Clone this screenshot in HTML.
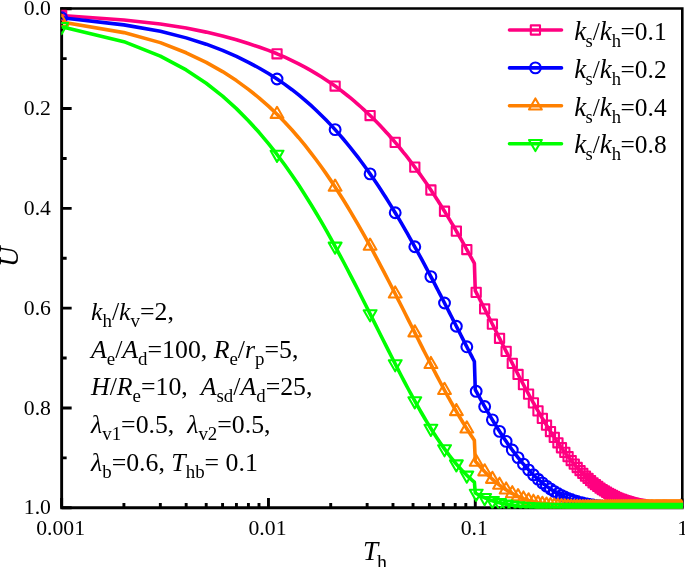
<!DOCTYPE html>
<html><head><meta charset="utf-8"><title>U-Th</title>
<style>
html,body{margin:0;padding:0;background:#fff;}
svg{display:block;}
text{font-family:"Liberation Serif","Times New Roman",serif;fill:#000;}
.i{font-style:italic;}
</style></head><body>
<svg width="685" height="567" viewBox="0 0 685 567">
<rect width="685" height="567" fill="#fff"/>
<defs><clipPath id="cp"><rect x="61.3" y="7.3" width="621.8000000000001" height="501.25"/></clipPath></defs>

<path d="M60.199999999999996 8.55H682.3V507.8" fill="none" stroke="#000" stroke-width="2.6" stroke-linejoin="miter"/>
<path d="M61.65 7.250000000000001V507.8H683.5999999999999" fill="none" stroke="#000" stroke-width="2.9" stroke-linejoin="miter"/>
<path d="M61.65 8.70h10.0M61.65 58.61h5.0M61.65 108.52h10.0M61.65 158.43h5.0M61.65 208.34h10.0M61.65 258.25h5.0M61.65 308.16h10.0M61.65 358.07h5.0M61.65 407.98h10.0M61.65 457.89h5.0M61.65 507.80h10.0M61.65 507.8v-9.8M123.91 507.8v-4.8M160.33 507.8v-4.8M186.17 507.8v-4.8M206.21 507.8v-4.8M222.58 507.8v-4.8M236.43 507.8v-4.8M248.42 507.8v-4.8M259.00 507.8v-4.8M268.47 507.8v-9.8M330.72 507.8v-4.8M367.14 507.8v-4.8M392.98 507.8v-4.8M413.03 507.8v-4.8M429.40 507.8v-4.8M443.25 507.8v-4.8M455.24 507.8v-4.8M465.82 507.8v-4.8M475.28 507.8v-9.8M537.54 507.8v-4.8M573.96 507.8v-4.8M599.80 507.8v-4.8M619.84 507.8v-4.8M636.22 507.8v-4.8M650.06 507.8v-4.8M662.06 507.8v-4.8M672.64 507.8v-4.8M682.1 507.8v-9.4" stroke="#000" stroke-width="2.9" fill="none"/>
<g clip-path="url(#cp)" fill="none" stroke-linejoin="round">
<polyline points="61.65,15.43 123.91,19.99 160.33,23.98 186.17,28.09 206.21,32.12 222.58,36.04 236.43,39.83 248.42,43.56 259.00,47.00 268.47,50.41 277.03,53.78 284.84,57.19 292.03,60.56 298.69,63.88 304.89,67.17 310.68,70.42 316.13,73.62 321.26,76.78 326.12,79.91 330.72,83.00 335.11,86.07 339.29,89.15 343.28,92.20 347.10,95.22 350.77,98.21 354.29,101.16 357.68,104.09 360.95,106.99 364.10,109.86 367.14,112.71 370.09,115.53 372.94,118.32 375.70,121.09 378.39,123.83 380.99,126.55 383.52,129.25 385.98,131.92 388.38,134.57 390.71,137.19 392.98,139.80 395.20,142.38 397.37,144.94 399.48,147.48 401.54,150.01 403.56,152.51 405.54,154.99 407.47,157.45 409.36,159.89 411.21,162.31 413.03,164.72 414.80,167.10 416.55,169.47 418.26,171.82 419.94,174.15 421.59,176.47 423.20,178.77 424.79,181.05 426.36,183.31 427.89,185.55 429.40,187.78 430.89,190.00 432.35,192.20 433.78,194.38 435.20,196.54 436.59,198.69 437.96,200.83 439.31,202.95 440.64,205.05 441.95,207.14 443.25,209.21 444.52,211.27 445.78,213.32 447.02,215.35 448.24,217.36 449.44,219.36 450.63,221.35 451.81,223.32 452.97,225.28 454.11,227.23 455.24,229.16 456.36,231.08 457.46,232.98 458.55,234.87 459.62,236.75 460.69,238.62 461.74,240.47 462.77,242.31 463.80,244.13 464.82,245.95 465.82,247.75 466.81,249.54 467.79,251.31 468.77,253.08 469.73,254.83 470.68,256.57 471.62,258.29 472.55,260.01 473.47,261.71 474.38,263.40 475.28,290.66 476.18,292.39 477.06,294.11 477.94,295.81 478.81,297.50 479.67,299.17 480.52,300.83 481.36,302.48 482.20,304.11 483.02,305.73 483.84,307.34 484.66,308.94 485.46,310.52 486.26,312.09 487.05,313.65 487.84,315.19 488.61,316.73 489.39,318.25 490.15,319.76 490.91,321.25 491.66,322.74 492.40,324.21 493.14,325.67 493.88,327.12 494.60,328.56 495.33,329.99 496.04,331.40 496.75,332.81 497.46,334.20 498.16,335.58 498.85,336.95 499.54,338.31 500.22,339.66 500.90,341.00 501.57,342.33 502.24,343.64 502.90,344.95 503.56,346.25 504.21,347.53 504.86,348.81 505.51,350.07 506.14,351.33 506.78,352.57 507.41,353.81 508.04,355.03 508.66,356.25 509.27,357.45 509.89,358.65 510.50,359.84 511.10,361.01 511.70,362.18 512.30,363.34 512.89,364.49 513.48,365.63 514.07,366.76 514.65,367.88 515.22,369.00 515.80,370.10 516.37,371.20 516.94,372.28 517.50,373.36 518.06,374.43 518.61,375.49 519.17,376.55 519.72,377.59 520.26,378.63 520.81,379.65 521.34,380.67 521.88,381.69 522.41,382.69 522.94,383.68 523.47,384.67 523.99,385.65 524.52,386.62 525.03,387.59 525.55,388.54 526.06,389.49 526.57,390.43 527.07,391.37 527.58,392.29 528.08,393.21 528.58,394.12 529.07,395.03 529.56,395.92 530.05,396.81 530.54,397.70 531.02,398.57 531.50,399.44 531.98,400.30 532.46,401.16 532.93,402.01 533.41,402.85 533.87,403.68 534.34,404.51 534.81,405.33 535.27,406.15 535.73,406.95 536.18,407.76 536.64,408.55 537.09,409.34 537.54,410.12 537.99,410.90 538.44,411.67 538.88,412.44 539.32,413.19 539.76,413.95 540.20,414.69 540.63,415.43 541.06,416.17 541.49,416.90 541.92,417.62 542.35,418.34 542.78,419.05 543.20,419.75 543.62,420.45 544.04,421.15 544.45,421.84 544.87,422.52 545.28,423.20 545.69,423.87 546.10,424.54 546.51,425.20 546.91,425.85 547.32,426.51 547.72,427.15 548.12,427.79 548.52,428.43 548.92,429.06 549.31,429.69 549.70,430.31 550.09,430.92 550.48,431.53 550.87,432.14 551.26,432.74 551.64,433.34 552.03,433.93 552.41,434.52 552.79,435.10 553.17,435.68 553.54,436.25 553.92,436.82 554.29,437.38 554.66,437.94 555.03,438.50 555.40,439.05 555.77,439.59 556.14,440.14 556.50,440.67 556.86,441.21 557.22,441.74 557.58,442.26 557.94,442.78 558.30,443.30 558.66,443.81 559.01,444.32 559.36,444.82 559.71,445.32 560.06,445.82 560.41,446.31 560.76,446.80 561.11,447.28 561.45,447.76 561.80,448.24 562.14,448.71 562.48,449.18 562.82,449.65 563.16,450.11 563.49,450.57 563.83,451.02 564.16,451.47 564.50,451.92 564.83,452.36 565.16,452.80 565.49,453.24 565.82,453.67 566.14,454.10 566.47,454.53 566.80,454.95 567.12,455.37 567.44,455.79 567.76,456.20 568.08,456.61 568.40,457.02 568.72,457.42 569.04,457.82 569.35,458.22 569.67,458.61 569.98,459.00 570.29,459.39 570.60,459.77 570.91,460.15 571.22,460.53 571.53,460.91 571.84,461.28 572.15,461.65 572.45,462.01 572.75,462.38 573.06,462.74 573.36,463.09 573.66,463.45 573.96,463.80 574.26,464.15 574.56,464.50 574.85,464.84 575.15,465.18 575.44,465.52 575.74,465.85 576.03,466.19 576.32,466.52 576.61,466.84 576.91,467.17 577.19,467.49 577.48,467.81 577.77,468.13 578.06,468.44 578.34,468.75 578.63,469.06 578.91,469.37 579.19,469.68 579.48,469.98 579.76,470.28 580.04,470.57 580.32,470.87 580.59,471.16 580.87,471.45 581.15,471.74 581.43,472.03 581.70,472.31 581.97,472.59 582.25,472.87 582.52,473.15 582.79,473.42 583.06,473.69 583.33,473.96 583.60,474.23 583.87,474.50 584.14,474.76 584.41,475.02 584.67,475.28 584.94,475.54 585.20,475.80 585.47,476.05 585.73,476.30 585.99,476.55 586.25,476.80 586.51,477.04 586.77,477.29 587.03,477.53 587.29,477.77 587.55,478.00 587.81,478.24 588.06,478.47 588.32,478.71 588.57,478.94 588.83,479.17 589.08,479.39 589.33,479.62 589.58,479.84 589.84,480.06 590.09,480.28 590.34,480.50 590.59,480.71 590.83,480.93 591.08,481.14 591.33,481.35 591.57,481.56 591.82,481.77 592.07,481.97 592.31,482.18 592.55,482.38 592.80,482.58 593.04,482.78 593.28,482.98 593.52,483.18 593.76,483.37 594.00,483.56 594.24,483.75 594.48,483.94 594.72,484.13 594.96,484.32 595.19,484.51 595.43,484.69 595.66,484.87 595.90,485.05 596.13,485.23 596.37,485.41 596.60,485.59 596.83,485.76 597.06,485.94 597.29,486.11 597.53,486.28 597.76,486.45 597.98,486.62 598.21,486.79 598.44,486.95 598.67,487.12 598.90,487.28 599.12,487.44 599.35,487.60 599.57,487.76 599.80,487.92 600.02,488.08 600.25,488.23 600.47,488.39 600.69,488.54 600.92,488.69 601.14,488.84 601.36,488.99 601.58,489.14 601.80,489.29 602.02,489.43 602.24,489.58 602.45,489.72 602.67,489.86 602.89,490.01 603.11,490.15 603.32,490.28 603.54,490.42 603.75,490.56 603.97,490.70 604.18,490.83 604.40,490.96 604.61,491.10 604.82,491.23 605.03,491.36 605.24,491.49 605.46,491.62 605.67,491.74 605.88,491.87 606.09,491.99 606.30,492.12 606.50,492.24 606.71,492.36 606.92,492.49 607.13,492.61 607.33,492.73 607.54,492.84 607.75,492.96 607.95,493.08 608.16,493.19 608.36,493.31 608.56,493.42 608.77,493.54 608.97,493.65 609.17,493.76 609.37,493.87 609.58,493.98 609.78,494.09 609.98,494.20 610.18,494.30 610.38,494.41 610.58,494.51 610.78,494.62 610.98,494.72 611.17,494.82 611.37,494.93 611.57,495.03 611.77,495.13 611.96,495.23 612.16,495.32 612.35,495.42 612.55,495.52 612.74,495.62 612.94,495.71 613.13,495.81 613.32,495.90 613.52,495.99 613.71,496.09 613.90,496.18 614.09,496.27 614.28,496.36 614.48,496.45 614.67,496.54 614.86,496.63 615.05,496.71 615.23,496.80 615.42,496.89 615.61,496.97 615.80,497.06 615.99,497.14 616.18,497.22 616.36,497.31 616.55,497.39 616.73,497.47 616.92,497.55 617.11,497.63 617.29,497.71 617.48,497.79 617.66,497.87 617.84,497.94 618.03,498.02 618.21,498.10 618.39,498.17 618.58,498.25 618.76,498.32 618.94,498.40 619.12,498.47 619.30,498.54 619.48,498.61 619.66,498.69 619.84,498.76 620.02,498.83 620.20,498.90 620.38,498.97 620.56,499.04 620.74,499.10 620.91,499.17 621.09,499.24 621.27,499.31 621.44,499.37 621.62,499.44 621.80,499.50 621.97,499.57 622.15,499.63 622.32,499.69 622.50,499.76 622.67,499.82 622.85,499.88 623.02,499.94 623.19,500.00 623.36,500.06 623.54,500.12 623.71,500.18 623.88,500.24 624.05,500.30 624.22,500.36 624.40,500.42 624.57,500.48 624.74,500.53 624.91,500.59 625.08,500.64 625.24,500.70 625.41,500.75 625.58,500.81 625.75,500.86 625.92,500.92 626.09,500.97 626.25,501.02 626.42,501.08 626.59,501.13 626.75,501.18 626.92,501.23 627.09,501.28 627.25,501.33 627.42,501.38 627.58,501.43 627.75,501.48 627.91,501.53 628.08,501.58 628.24,501.62 628.40,501.67 628.57,501.72 628.73,501.77 628.89,501.81 629.05,501.86 629.22,501.90 629.38,501.95 629.54,502.00 629.70,502.04 629.86,502.08 630.02,502.13 630.18,502.17 630.34,502.22 630.50,502.26 630.66,502.30 630.82,502.34 630.98,502.38 631.14,502.43 631.30,502.47 631.45,502.51 631.61,502.55 631.77,502.59 631.93,502.63 632.08,502.67 632.24,502.71 632.40,502.75 632.55,502.79 632.71,502.82 632.86,502.86 633.02,502.90 633.17,502.94 633.33,502.97 633.48,503.01 633.64,503.05 633.79,503.08 633.94,503.12 634.10,503.16 634.25,503.19 634.40,503.23 634.56,503.26 634.71,503.30 634.86,503.33 635.01,503.36 635.16,503.40 635.32,503.43 635.47,503.46 635.62,503.50 635.77,503.53 635.92,503.56 636.07,503.59 636.22,503.63 636.37,503.66 636.52,503.69 636.67,503.72 636.81,503.75 636.96,503.78 637.11,503.81 637.26,503.84 637.41,503.87 637.56,503.90 637.70,503.93 637.85,503.96 638.00,503.99 638.14,504.02 638.29,504.05 638.44,504.08 638.58,504.10 638.73,504.13 638.87,504.16 639.02,504.19 639.16,504.21 639.31,504.24 639.45,504.27 639.60,504.29 639.74,504.32 639.88,504.35 640.03,504.37 640.17,504.40 640.31,504.42 640.46,504.45 640.60,504.47 640.74,504.50 640.88,504.52 641.03,504.55 641.17,504.57 641.31,504.60 641.45,504.62 641.59,504.64 641.73,504.67 641.87,504.69 642.01,504.71 642.16,504.74 642.30,504.76 642.43,504.78 642.57,504.81 642.71,504.83 642.85,504.85 642.99,504.87 643.13,504.89 643.27,504.92 643.41,504.94 643.55,504.96 643.68,504.98 643.82,505.00 643.96,505.02 644.10,505.04 644.23,505.06 644.37,505.08 644.51,505.10 644.64,505.12 644.78,505.14 644.91,505.16 645.05,505.18 645.19,505.20 645.32,505.22 645.46,505.24 645.59,505.26 645.73,505.28 645.86,505.29 646.00,505.31 646.13,505.33 646.26,505.35 646.40,505.37 646.53,505.38 646.66,505.40 646.80,505.42 646.93,505.44 647.06,505.45 647.20,505.47 647.33,505.49 647.46,505.50 647.59,505.52 647.72,505.54 647.86,505.55 647.99,505.57 648.12,505.59 648.25,505.60 648.38,505.62 648.51,505.63 648.64,505.65 648.77,505.67 648.90,505.68 649.03,505.70 649.16,505.71 649.29,505.73 649.42,505.74 649.55,505.76 649.68,505.77 649.81,505.79 649.94,505.80 650.06,505.81 650.19,505.83 650.32,505.84 650.45,505.86 650.58,505.87 650.70,505.88 650.83,505.90 650.96,505.91 651.08,505.93 651.21,505.94 651.34,505.95 651.46,505.97 651.59,505.98 651.72,505.99 651.84,506.00 651.97,506.02 652.09,506.03 652.22,506.04 652.34,506.05 652.47,506.07 652.59,506.08 652.72,506.09 652.84,506.10 652.97,506.11 653.09,506.13 653.22,506.14 653.34,506.15 653.46,506.16 653.59,506.17 653.71,506.18 653.83,506.20 653.96,506.21 654.08,506.22 654.20,506.23 654.32,506.24 654.45,506.25 654.57,506.26 654.69,506.27 654.81,506.28 654.93,506.29 655.05,506.30 655.18,506.31 655.30,506.32 655.42,506.33 655.54,506.34 655.66,506.35 655.78,506.36 655.90,506.37 656.02,506.38 656.14,506.39 656.26,506.40 656.38,506.41 656.50,506.42 656.62,506.43 656.74,506.44 656.86,506.45 656.98,506.46 657.10,506.47 657.21,506.48 657.33,506.49 657.45,506.50 657.57,506.50 657.69,506.51 657.80,506.52 657.92,506.53 658.04,506.54 658.16,506.55 658.27,506.56 658.39,506.56 658.51,506.57 658.62,506.58 658.74,506.59 658.86,506.60 658.97,506.60 659.09,506.61 659.21,506.62 659.32,506.63 659.44,506.64 659.55,506.64 659.67,506.65 659.78,506.66 659.90,506.67 660.01,506.67 660.13,506.68 660.24,506.69 660.36,506.70 660.47,506.70 660.59,506.71 660.70,506.72 660.81,506.72 660.93,506.73 661.04,506.74 661.15,506.74 661.27,506.75 661.38,506.76 661.49,506.77 661.61,506.77 661.72,506.78 661.83,506.78 661.95,506.79 662.06,506.80 662.17,506.80 662.28,506.81 662.39,506.82 662.51,506.82 662.62,506.83 662.73,506.84 662.84,506.84 662.95,506.85 663.06,506.85 663.17,506.86 663.28,506.87 663.39,506.87 663.51,506.88 663.62,506.88 663.73,506.89 663.84,506.89 663.95,506.90 664.06,506.91 664.17,506.91 664.28,506.92 664.38,506.92 664.49,506.93 664.60,506.93 664.71,506.94 664.82,506.94 664.93,506.95 665.04,506.95 665.15,506.96 665.26,506.96 665.36,506.97 665.47,506.97 665.58,506.98 665.69,506.98 665.80,506.99 665.90,506.99 666.01,507.00 666.12,507.00 666.23,507.01 666.33,507.01 666.44,507.02 666.55,507.02 666.65,507.03 666.76,507.03 666.87,507.04 666.97,507.04 667.08,507.04 667.19,507.05 667.29,507.05 667.40,507.06 667.50,507.06 667.61,507.07 667.71,507.07 667.82,507.08 667.92,507.08 668.03,507.08 668.13,507.09 668.24,507.09 668.34,507.10 668.45,507.10 668.55,507.10 668.66,507.11 668.76,507.11 668.87,507.12 668.97,507.12 669.07,507.12 669.18,507.13 669.28,507.13 669.38,507.13 669.49,507.14 669.59,507.14 669.69,507.15 669.80,507.15 669.90,507.15 670.00,507.16 670.11,507.16 670.21,507.16 670.31,507.17 670.41,507.17 670.52,507.17 670.62,507.18 670.72,507.18 670.82,507.18 670.92,507.19 671.03,507.19 671.13,507.19 671.23,507.20 671.33,507.20 671.43,507.20 671.53,507.21 671.63,507.21 671.73,507.21 671.83,507.22 671.94,507.22 672.04,507.22 672.14,507.22 672.24,507.23 672.34,507.23 672.44,507.23 672.54,507.24 672.64,507.24 672.74,507.24 672.84,507.25 672.94,507.25 673.03,507.25 673.13,507.25 673.23,507.26 673.33,507.26 673.43,507.26 673.53,507.26 673.63,507.27 673.73,507.27 673.83,507.27 673.92,507.28 674.02,507.28 674.12,507.28 674.22,507.28 674.32,507.29 674.42,507.29 674.51,507.29 674.61,507.29 674.71,507.30 674.81,507.30 674.90,507.30 675.00,507.30 675.10,507.30 675.19,507.31 675.29,507.31 675.39,507.31 675.49,507.31 675.58,507.32 675.68,507.32 675.77,507.32 675.87,507.32 675.97,507.33 676.06,507.33 676.16,507.33 676.26,507.33 676.35,507.33 676.45,507.34 676.54,507.34 676.64,507.34 676.73,507.34 676.83,507.34 676.92,507.35 677.02,507.35 677.11,507.35 677.21,507.35 677.30,507.35 677.40,507.36 677.49,507.36 677.59,507.36 677.68,507.36 677.78,507.36 677.87,507.37 677.96,507.37 678.06,507.37 678.15,507.37 678.25,507.37 678.34,507.38 678.43,507.38 678.53,507.38 678.62,507.38 678.71,507.38 678.81,507.38 678.90,507.39 678.99,507.39 679.09,507.39 679.18,507.39 679.27,507.39 679.36,507.39 679.46,507.40 679.55,507.40 679.64,507.40 679.73,507.40 679.83,507.40 679.92,507.40 680.01,507.41 680.10,507.41 680.19,507.41 680.29,507.41 680.38,507.41 680.47,507.41 680.56,507.41 680.65,507.42 680.74,507.42 680.83,507.42 680.92,507.42 681.02,507.42 681.11,507.42 681.20,507.42 681.29,507.43 681.38,507.43 681.47,507.43 681.56,507.43 681.65,507.43 681.74,507.43 681.83,507.43 681.92,507.44 682.01,507.44 682.10,507.44" stroke="#FF0080" stroke-width="3.6"/>
<path d="M57.05 10.83h9.20v9.20h-9.20zM272.43 49.18h9.20v9.20h-9.20zM330.51 81.47h9.20v9.20h-9.20zM365.49 110.93h9.20v9.20h-9.20zM390.60 137.78h9.20v9.20h-9.20zM410.20 162.50h9.20v9.20h-9.20zM426.29 185.40h9.20v9.20h-9.20zM439.92 206.67h9.20v9.20h-9.20zM451.76 226.48h9.20v9.20h-9.20zM462.21 244.94h9.20v9.20h-9.20zM471.58 287.79h9.20v9.20h-9.20zM480.06 304.34h9.20v9.20h-9.20zM487.80 319.61h9.20v9.20h-9.20zM494.94 333.71h9.20v9.20h-9.20zM501.54 346.73h9.20v9.20h-9.20zM507.70 358.74h9.20v9.20h-9.20zM513.46 369.83h9.20v9.20h-9.20zM518.87 380.07h9.20v9.20h-9.20zM523.98 389.52h9.20v9.20h-9.20zM528.81 398.25h9.20v9.20h-9.20zM533.39 406.30h9.20v9.20h-9.20zM537.75 413.74h9.20v9.20h-9.20zM541.91 420.60h9.20v9.20h-9.20zM545.88 426.93h9.20v9.20h-9.20zM549.69 432.78h9.20v9.20h-9.20zM553.34 438.18h9.20v9.20h-9.20zM556.85 443.16h9.20v9.20h-9.20zM560.23 447.76h9.20v9.20h-9.20zM563.48 452.01h9.20v9.20h-9.20zM566.62 455.93h9.20v9.20h-9.20zM569.66 459.55h9.20v9.20h-9.20zM572.59 462.89h9.20v9.20h-9.20zM575.44 465.97h9.20v9.20h-9.20zM578.19 468.82h9.20v9.20h-9.20zM580.87 471.45h9.20v9.20h-9.20zM583.46 473.87h9.20v9.20h-9.20zM585.99 476.11h9.20v9.20h-9.20zM588.44 478.18h9.20v9.20h-9.20zM590.83 480.09h9.20v9.20h-9.20zM593.16 481.85h9.20v9.20h-9.20zM595.42 483.48h9.20v9.20h-9.20zM597.64 484.98h9.20v9.20h-9.20zM599.80 486.36h9.20v9.20h-9.20zM601.90 487.64h9.20v9.20h-9.20zM603.96 488.82h9.20v9.20h-9.20zM605.98 489.91h9.20v9.20h-9.20zM607.95 490.92h9.20v9.20h-9.20zM609.88 491.85h9.20v9.20h-9.20zM611.76 492.71h9.20v9.20h-9.20zM613.61 493.50h9.20v9.20h-9.20zM615.42 494.23h9.20v9.20h-9.20zM617.20 494.90h9.20v9.20h-9.20zM618.94 495.52h9.20v9.20h-9.20zM620.64 496.10h9.20v9.20h-9.20zM622.32 496.63h9.20v9.20h-9.20zM623.97 497.12h9.20v9.20h-9.20zM625.58 497.57h9.20v9.20h-9.20zM627.17 497.99h9.20v9.20h-9.20zM628.73 498.37h9.20v9.20h-9.20zM630.26 498.73h9.20v9.20h-9.20zM631.77 499.06h9.20v9.20h-9.20zM633.25 499.36h9.20v9.20h-9.20zM634.71 499.64h9.20v9.20h-9.20zM636.14 499.90h9.20v9.20h-9.20zM637.56 500.14h9.20v9.20h-9.20zM638.95 500.36h9.20v9.20h-9.20zM640.31 500.56h9.20v9.20h-9.20zM641.66 500.75h9.20v9.20h-9.20zM642.99 500.92h9.20v9.20h-9.20zM644.30 501.08h9.20v9.20h-9.20zM645.59 501.23h9.20v9.20h-9.20zM646.86 501.37h9.20v9.20h-9.20zM648.12 501.49h9.20v9.20h-9.20zM649.36 501.61h9.20v9.20h-9.20zM650.58 501.71h9.20v9.20h-9.20zM651.78 501.81h9.20v9.20h-9.20zM652.97 501.90h9.20v9.20h-9.20zM654.14 501.99h9.20v9.20h-9.20zM655.30 502.07h9.20v9.20h-9.20zM656.44 502.14h9.20v9.20h-9.20zM657.57 502.20h9.20v9.20h-9.20zM658.68 502.27h9.20v9.20h-9.20zM659.78 502.32h9.20v9.20h-9.20zM660.87 502.37h9.20v9.20h-9.20zM661.95 502.42h9.20v9.20h-9.20zM663.01 502.47h9.20v9.20h-9.20zM664.06 502.51h9.20v9.20h-9.20zM665.09 502.55h9.20v9.20h-9.20zM666.12 502.58h9.20v9.20h-9.20zM667.13 502.61h9.20v9.20h-9.20zM668.14 502.64h9.20v9.20h-9.20zM669.13 502.67h9.20v9.20h-9.20zM670.11 502.70h9.20v9.20h-9.20zM671.08 502.72h9.20v9.20h-9.20zM672.04 502.74h9.20v9.20h-9.20zM672.99 502.76h9.20v9.20h-9.20zM673.93 502.78h9.20v9.20h-9.20zM674.86 502.80h9.20v9.20h-9.20zM675.78 502.81h9.20v9.20h-9.20zM676.69 502.83h9.20v9.20h-9.20z" stroke="#FF0080" stroke-width="2.1" stroke-linejoin="round"/>
<polyline points="61.65,17.75 123.91,24.89 160.33,31.24 186.17,37.88 206.21,44.18 222.58,50.36 236.43,56.42 248.42,62.37 259.00,67.99 268.47,73.53 277.03,79.00 284.84,84.39 292.03,89.71 298.69,94.95 304.89,100.12 310.68,105.22 316.13,110.23 321.26,115.18 326.12,120.06 330.72,124.87 335.11,129.62 339.29,134.33 343.28,138.98 347.10,143.56 350.77,148.08 354.29,152.53 357.68,156.93 360.95,161.26 364.10,165.53 367.14,169.75 370.09,173.91 372.94,178.04 375.70,182.11 378.39,186.12 380.99,190.08 383.52,193.99 385.98,197.84 388.38,201.65 390.71,205.40 392.98,209.10 395.20,212.76 397.37,216.36 399.48,219.92 401.54,223.43 403.56,226.90 405.54,230.32 407.47,233.70 409.36,237.03 411.21,240.32 413.03,243.56 414.80,246.77 416.55,249.93 418.26,253.06 419.94,256.14 421.59,259.19 423.20,262.19 424.79,265.16 426.36,268.09 427.89,270.98 429.40,273.84 430.89,276.66 432.35,279.44 433.78,282.19 435.20,284.91 436.59,287.59 437.96,290.24 439.31,292.85 440.64,295.44 441.95,297.99 443.25,300.50 444.52,302.99 445.78,305.45 447.02,307.88 448.24,310.27 449.44,312.64 450.63,314.98 451.81,317.28 452.97,319.56 454.11,321.82 455.24,324.04 456.36,326.24 457.46,328.41 458.55,330.55 459.62,332.67 460.69,334.76 461.74,336.83 462.77,338.87 463.80,340.89 464.82,342.88 465.82,344.85 466.81,346.79 467.79,348.71 468.77,350.61 469.73,352.48 470.68,354.33 471.62,356.16 472.55,357.97 473.47,359.75 474.38,361.52 475.28,389.66 476.18,391.31 477.06,392.93 477.94,394.53 478.81,396.11 479.67,397.67 480.52,399.21 481.36,400.72 482.20,402.22 483.02,403.69 483.84,405.14 484.66,406.57 485.46,407.98 486.26,409.37 487.05,410.75 487.84,412.10 488.61,413.43 489.39,414.75 490.15,416.05 490.91,417.33 491.66,418.59 492.40,419.83 493.14,421.06 493.88,422.27 494.60,423.46 495.33,424.63 496.04,425.79 496.75,426.94 497.46,428.06 498.16,429.17 498.85,430.27 499.54,431.35 500.22,432.42 500.90,433.47 501.57,434.50 502.24,435.52 502.90,436.53 503.56,437.52 504.21,438.50 504.86,439.47 505.51,440.42 506.14,441.36 506.78,442.28 507.41,443.20 508.04,444.10 508.66,444.98 509.27,445.86 509.89,446.72 510.50,447.57 511.10,448.41 511.70,449.24 512.30,450.05 512.89,450.86 513.48,451.65 514.07,452.43 514.65,453.20 515.22,453.96 515.80,454.71 516.37,455.45 516.94,456.18 517.50,456.90 518.06,457.61 518.61,458.30 519.17,458.99 519.72,459.67 520.26,460.34 520.81,461.00 521.34,461.65 521.88,462.30 522.41,462.93 522.94,463.55 523.47,464.17 523.99,464.77 524.52,465.37 525.03,465.96 525.55,466.54 526.06,467.12 526.57,467.68 527.07,468.24 527.58,468.79 528.08,469.33 528.58,469.87 529.07,470.40 529.56,470.92 530.05,471.43 530.54,471.93 531.02,472.43 531.50,472.92 531.98,473.41 532.46,473.88 532.93,474.36 533.41,474.82 533.87,475.28 534.34,475.73 534.81,476.18 535.27,476.61 535.73,477.05 536.18,477.47 536.64,477.89 537.09,478.31 537.54,478.72 537.99,479.12 538.44,479.52 538.88,479.91 539.32,480.30 539.76,480.68 540.20,481.06 540.63,481.43 541.06,481.79 541.49,482.15 541.92,482.51 542.35,482.86 542.78,483.21 543.20,483.55 543.62,483.88 544.04,484.21 544.45,484.54 544.87,484.86 545.28,485.18 545.69,485.49 546.10,485.80 546.51,486.11 546.91,486.41 547.32,486.70 547.72,487.00 548.12,487.28 548.52,487.57 548.92,487.85 549.31,488.12 549.70,488.40 550.09,488.66 550.48,488.93 550.87,489.19 551.26,489.45 551.64,489.70 552.03,489.95 552.41,490.20 552.79,490.44 553.17,490.68 553.54,490.92 553.92,491.15 554.29,491.38 554.66,491.61 555.03,491.83 555.40,492.05 555.77,492.27 556.14,492.48 556.50,492.69 556.86,492.90 557.22,493.11 557.58,493.31 557.94,493.51 558.30,493.70 558.66,493.90 559.01,494.09 559.36,494.28 559.71,494.47 560.06,494.65 560.41,494.83 560.76,495.01 561.11,495.18 561.45,495.36 561.80,495.53 562.14,495.70 562.48,495.86 562.82,496.03 563.16,496.19 563.49,496.35 563.83,496.51 564.16,496.66 564.50,496.81 564.83,496.96 565.16,497.11 565.49,497.26 565.82,497.40 566.14,497.55 566.47,497.69 566.80,497.83 567.12,497.96 567.44,498.10 567.76,498.23 568.08,498.36 568.40,498.49 568.72,498.62 569.04,498.74 569.35,498.87 569.67,498.99 569.98,499.11 570.29,499.23 570.60,499.34 570.91,499.46 571.22,499.57 571.53,499.69 571.84,499.80 572.15,499.90 572.45,500.01 572.75,500.12 573.06,500.22 573.36,500.33 573.66,500.43 573.96,500.53 574.26,500.63 574.56,500.72 574.85,500.82 575.15,500.91 575.44,501.01 575.74,501.10 576.03,501.19 576.32,501.28 576.61,501.37 576.91,501.46 577.19,501.54 577.48,501.63 577.77,501.71 578.06,501.79 578.34,501.87 578.63,501.95 578.91,502.03 579.19,502.11 579.48,502.19 579.76,502.26 580.04,502.34 580.32,502.41 580.59,502.48 580.87,502.55 581.15,502.62 581.43,502.69 581.70,502.76 581.97,502.83 582.25,502.90 582.52,502.96 582.79,503.03 583.06,503.09 583.33,503.15 583.60,503.22 583.87,503.28 584.14,503.34 584.41,503.40 584.67,503.46 584.94,503.51 585.20,503.57 585.47,503.63 585.73,503.68 585.99,503.74 586.25,503.79 586.51,503.85 586.77,503.90 587.03,503.95 587.29,504.00 587.55,504.05 587.81,504.10 588.06,504.15 588.32,504.20 588.57,504.24 588.83,504.29 589.08,504.34 589.33,504.38 589.58,504.43 589.84,504.47 590.09,504.52 590.34,504.56 590.59,504.60 590.83,504.64 591.08,504.69 591.33,504.73 591.57,504.77 591.82,504.81 592.07,504.84 592.31,504.88 592.55,504.92 592.80,504.96 593.04,505.00 593.28,505.03 593.52,505.07 593.76,505.10 594.00,505.14 594.24,505.17 594.48,505.21 594.72,505.24 594.96,505.27 595.19,505.31 595.43,505.34 595.66,505.37 595.90,505.40 596.13,505.43 596.37,505.46 596.60,505.49 596.83,505.52 597.06,505.55 597.29,505.58 597.53,505.61 597.76,505.63 597.98,505.66 598.21,505.69 598.44,505.72 598.67,505.74 598.90,505.77 599.12,505.79 599.35,505.82 599.57,505.84 599.80,505.87 600.02,505.89 600.25,505.92 600.47,505.94 600.69,505.96 600.92,505.99 601.14,506.01 601.36,506.03 601.58,506.05 601.80,506.07 602.02,506.10 602.24,506.12 602.45,506.14 602.67,506.16 602.89,506.18 603.11,506.20 603.32,506.22 603.54,506.24 603.75,506.26 603.97,506.27 604.18,506.29 604.40,506.31 604.61,506.33 604.82,506.35 605.03,506.36 605.24,506.38 605.46,506.40 605.67,506.42 605.88,506.43 606.09,506.45 606.30,506.46 606.50,506.48 606.71,506.50 606.92,506.51 607.13,506.53 607.33,506.54 607.54,506.56 607.75,506.57 607.95,506.59 608.16,506.60 608.36,506.61 608.56,506.63 608.77,506.64 608.97,506.65 609.17,506.67 609.37,506.68 609.58,506.69 609.78,506.71 609.98,506.72 610.18,506.73 610.38,506.74 610.58,506.75 610.78,506.77 610.98,506.78 611.17,506.79 611.37,506.80 611.57,506.81 611.77,506.82 611.96,506.83 612.16,506.84 612.35,506.86 612.55,506.87 612.74,506.88 612.94,506.89 613.13,506.90 613.32,506.91 613.52,506.92 613.71,506.93 613.90,506.93 614.09,506.94 614.28,506.95 614.48,506.96 614.67,506.97 614.86,506.98 615.05,506.99 615.23,507.00 615.42,507.01 615.61,507.01 615.80,507.02 615.99,507.03 616.18,507.04 616.36,507.05 616.55,507.05 616.73,507.06 616.92,507.07 617.11,507.08 617.29,507.08 617.48,507.09 617.66,507.10 617.84,507.10 618.03,507.11 618.21,507.12 618.39,507.13 618.58,507.13 618.76,507.14 618.94,507.15 619.12,507.15 619.30,507.16 619.48,507.16 619.66,507.17 619.84,507.18 620.02,507.18 620.20,507.19 620.38,507.19 620.56,507.20 620.74,507.20 620.91,507.21 621.09,507.22 621.27,507.22 621.44,507.23 621.62,507.23 621.80,507.24 621.97,507.24 622.15,507.25 622.32,507.25 622.50,507.26 622.67,507.26 622.85,507.27 623.02,507.27 623.19,507.28 623.36,507.28 623.54,507.28 623.71,507.29 623.88,507.29 624.05,507.30 624.22,507.30 624.40,507.31 624.57,507.31 624.74,507.31 624.91,507.32 625.08,507.32 625.24,507.33 625.41,507.33 625.58,507.33 625.75,507.34 625.92,507.34 626.09,507.34 626.25,507.35 626.42,507.35 626.59,507.36 626.75,507.36 626.92,507.36 627.09,507.37 627.25,507.37 627.42,507.37 627.58,507.37 627.75,507.38 627.91,507.38 628.08,507.38 628.24,507.39 628.40,507.39 628.57,507.39 628.73,507.40 628.89,507.40 629.05,507.40 629.22,507.40 629.38,507.41 629.54,507.41 629.70,507.41 629.86,507.42 630.02,507.42 630.18,507.42 630.34,507.42 630.50,507.43 630.66,507.43 630.82,507.43 630.98,507.43 631.14,507.43 631.30,507.44 631.45,507.44 631.61,507.44 631.77,507.44 631.93,507.45 632.08,507.45 632.24,507.45 632.40,507.45 632.55,507.45 632.71,507.46 632.86,507.46 633.02,507.46 633.17,507.46 633.33,507.46 633.48,507.47 633.64,507.47 633.79,507.47 633.94,507.47 634.10,507.47 634.25,507.48 634.40,507.48 634.56,507.48 634.71,507.48 634.86,507.48 635.01,507.48 635.16,507.49 635.32,507.49 635.47,507.49 635.62,507.49 635.77,507.49 635.92,507.49 636.07,507.49 636.22,507.50 636.37,507.50 636.52,507.50 636.67,507.50 636.81,507.50 636.96,507.50 637.11,507.50 637.26,507.51 637.41,507.51 637.56,507.51 637.70,507.51 637.85,507.51 638.00,507.51 638.14,507.51 638.29,507.51 638.44,507.52 638.58,507.52 638.73,507.52 638.87,507.52 639.02,507.52 639.16,507.52 639.31,507.52 639.45,507.52 639.60,507.52 639.74,507.53 639.88,507.53 640.03,507.53 640.17,507.53 640.31,507.53 640.46,507.53 640.60,507.53 640.74,507.53 640.88,507.53 641.03,507.53 641.17,507.54 641.31,507.54 641.45,507.54 641.59,507.54 641.73,507.54 641.87,507.54 642.01,507.54 642.16,507.54 642.30,507.54 642.43,507.54 642.57,507.54 642.71,507.54 642.85,507.55 642.99,507.55 643.13,507.55 643.27,507.55 643.41,507.55 643.55,507.55 643.68,507.55 643.82,507.55 643.96,507.55 644.10,507.55 644.23,507.55 644.37,507.55 644.51,507.55 644.64,507.55 644.78,507.56 644.91,507.56 645.05,507.56 645.19,507.56 645.32,507.56 645.46,507.56 645.59,507.56 645.73,507.56 645.86,507.56 646.00,507.56 646.13,507.56 646.26,507.56 646.40,507.56 646.53,507.56 646.66,507.56 646.80,507.56 646.93,507.56 647.06,507.56 647.20,507.57 647.33,507.57 647.46,507.57 647.59,507.57 647.72,507.57 647.86,507.57 647.99,507.57 648.12,507.57 648.25,507.57 648.38,507.57 648.51,507.57 648.64,507.57 648.77,507.57 648.90,507.57 649.03,507.57 649.16,507.57 649.29,507.57 649.42,507.57 649.55,507.57 649.68,507.57 649.81,507.57 649.94,507.57 650.06,507.57 650.19,507.57 650.32,507.58 650.45,507.58 650.58,507.58 650.70,507.58 650.83,507.58 650.96,507.58 651.08,507.58 651.21,507.58 651.34,507.58 651.46,507.58 651.59,507.58 651.72,507.58 651.84,507.58 651.97,507.58 652.09,507.58 652.22,507.58 652.34,507.58 652.47,507.58 652.59,507.58 652.72,507.58 652.84,507.58 652.97,507.58 653.09,507.58 653.22,507.58 653.34,507.58 653.46,507.58 653.59,507.58 653.71,507.58 653.83,507.58 653.96,507.58 654.08,507.58 654.20,507.58 654.32,507.58 654.45,507.58 654.57,507.58 654.69,507.58 654.81,507.59 654.93,507.59 655.05,507.59 655.18,507.59 655.30,507.59 655.42,507.59 655.54,507.59 655.66,507.59 655.78,507.59 655.90,507.59 656.02,507.59 656.14,507.59 656.26,507.59 656.38,507.59 656.50,507.59 656.62,507.59 656.74,507.59 656.86,507.59 656.98,507.59 657.10,507.59 657.21,507.59 657.33,507.59 657.45,507.59 657.57,507.59 657.69,507.59 657.80,507.59 657.92,507.59 658.04,507.59 658.16,507.59 658.27,507.59 658.39,507.59 658.51,507.59 658.62,507.59 658.74,507.59 658.86,507.59 658.97,507.59 659.09,507.59 659.21,507.59 659.32,507.59 659.44,507.59 659.55,507.59 659.67,507.59 659.78,507.59 659.90,507.59 660.01,507.59 660.13,507.59 660.24,507.59 660.36,507.59 660.47,507.59 660.59,507.59 660.70,507.59 660.81,507.59 660.93,507.59 661.04,507.59 661.15,507.59 661.27,507.59 661.38,507.59 661.49,507.59 661.61,507.59 661.72,507.59 661.83,507.59 661.95,507.59 662.06,507.59 662.17,507.59 662.28,507.59 662.39,507.59 662.51,507.59 662.62,507.59 662.73,507.59 662.84,507.59 662.95,507.59 663.06,507.59 663.17,507.59 663.28,507.59 663.39,507.59 663.51,507.59 663.62,507.59 663.73,507.59 663.84,507.60 663.95,507.60 664.06,507.60 664.17,507.60 664.28,507.60 664.38,507.60 664.49,507.60 664.60,507.60 664.71,507.60 664.82,507.60 664.93,507.60 665.04,507.60 665.15,507.60 665.26,507.60 665.36,507.60 665.47,507.60 665.58,507.60 665.69,507.60 665.80,507.60 665.90,507.60 666.01,507.60 666.12,507.60 666.23,507.60 666.33,507.60 666.44,507.60 666.55,507.60 666.65,507.60 666.76,507.60 666.87,507.60 666.97,507.60 667.08,507.60 667.19,507.60 667.29,507.60 667.40,507.60 667.50,507.60 667.61,507.60 667.71,507.60 667.82,507.60 667.92,507.60 668.03,507.60 668.13,507.60 668.24,507.60 668.34,507.60 668.45,507.60 668.55,507.60 668.66,507.60 668.76,507.60 668.87,507.60 668.97,507.60 669.07,507.60 669.18,507.60 669.28,507.60 669.38,507.60 669.49,507.60 669.59,507.60 669.69,507.60 669.80,507.60 669.90,507.60 670.00,507.60 670.11,507.60 670.21,507.60 670.31,507.60 670.41,507.60 670.52,507.60 670.62,507.60 670.72,507.60 670.82,507.60 670.92,507.60 671.03,507.60 671.13,507.60 671.23,507.60 671.33,507.60 671.43,507.60 671.53,507.60 671.63,507.60 671.73,507.60 671.83,507.60 671.94,507.60 672.04,507.60 672.14,507.60 672.24,507.60 672.34,507.60 672.44,507.60 672.54,507.60 672.64,507.60 672.74,507.60 672.84,507.60 672.94,507.60 673.03,507.60 673.13,507.60 673.23,507.60 673.33,507.60 673.43,507.60 673.53,507.60 673.63,507.60 673.73,507.60 673.83,507.60 673.92,507.60 674.02,507.60 674.12,507.60 674.22,507.60 674.32,507.60 674.42,507.60 674.51,507.60 674.61,507.60 674.71,507.60 674.81,507.60 674.90,507.60 675.00,507.60 675.10,507.60 675.19,507.60 675.29,507.60 675.39,507.60 675.49,507.60 675.58,507.60 675.68,507.60 675.77,507.60 675.87,507.60 675.97,507.60 676.06,507.60 676.16,507.60 676.26,507.60 676.35,507.60 676.45,507.60 676.54,507.60 676.64,507.60 676.73,507.60 676.83,507.60 676.92,507.60 677.02,507.60 677.11,507.60 677.21,507.60 677.30,507.60 677.40,507.60 677.49,507.60 677.59,507.60 677.68,507.60 677.78,507.60 677.87,507.60 677.96,507.60 678.06,507.60 678.15,507.60 678.25,507.60 678.34,507.60 678.43,507.60 678.53,507.60 678.62,507.60 678.71,507.60 678.81,507.60 678.90,507.60 678.99,507.60 679.09,507.60 679.18,507.60 679.27,507.60 679.36,507.60 679.46,507.60 679.55,507.60 679.64,507.60 679.73,507.60 679.83,507.60 679.92,507.60 680.01,507.60 680.10,507.60 680.19,507.60 680.29,507.60 680.38,507.60 680.47,507.60 680.56,507.60 680.65,507.60 680.74,507.60 680.83,507.60 680.92,507.60 681.02,507.60 681.11,507.60 681.20,507.60 681.29,507.60 681.38,507.60 681.47,507.60 681.56,507.60 681.65,507.60 681.74,507.60 681.83,507.60 681.92,507.60 682.01,507.60 682.10,507.60" stroke="#0000FF" stroke-width="3.6"/>
<path d="M56.25 17.75a5.4 5.4 0 1 0 10.80 0a5.4 5.4 0 1 0 -10.80 0zM271.63 79.00a5.4 5.4 0 1 0 10.80 0a5.4 5.4 0 1 0 -10.80 0zM329.71 129.62a5.4 5.4 0 1 0 10.80 0a5.4 5.4 0 1 0 -10.80 0zM364.69 173.91a5.4 5.4 0 1 0 10.80 0a5.4 5.4 0 1 0 -10.80 0zM389.80 212.76a5.4 5.4 0 1 0 10.80 0a5.4 5.4 0 1 0 -10.80 0zM409.40 246.77a5.4 5.4 0 1 0 10.80 0a5.4 5.4 0 1 0 -10.80 0zM425.49 276.66a5.4 5.4 0 1 0 10.80 0a5.4 5.4 0 1 0 -10.80 0zM439.12 302.99a5.4 5.4 0 1 0 10.80 0a5.4 5.4 0 1 0 -10.80 0zM450.96 326.24a5.4 5.4 0 1 0 10.80 0a5.4 5.4 0 1 0 -10.80 0zM461.41 346.79a5.4 5.4 0 1 0 10.80 0a5.4 5.4 0 1 0 -10.80 0zM470.78 391.31a5.4 5.4 0 1 0 10.80 0a5.4 5.4 0 1 0 -10.80 0zM479.26 406.57a5.4 5.4 0 1 0 10.80 0a5.4 5.4 0 1 0 -10.80 0zM487.00 419.83a5.4 5.4 0 1 0 10.80 0a5.4 5.4 0 1 0 -10.80 0zM494.14 431.35a5.4 5.4 0 1 0 10.80 0a5.4 5.4 0 1 0 -10.80 0zM500.74 441.36a5.4 5.4 0 1 0 10.80 0a5.4 5.4 0 1 0 -10.80 0zM506.90 450.05a5.4 5.4 0 1 0 10.80 0a5.4 5.4 0 1 0 -10.80 0zM512.66 457.61a5.4 5.4 0 1 0 10.80 0a5.4 5.4 0 1 0 -10.80 0zM518.07 464.17a5.4 5.4 0 1 0 10.80 0a5.4 5.4 0 1 0 -10.80 0zM523.18 469.87a5.4 5.4 0 1 0 10.80 0a5.4 5.4 0 1 0 -10.80 0zM528.01 474.82a5.4 5.4 0 1 0 10.80 0a5.4 5.4 0 1 0 -10.80 0zM532.59 479.12a5.4 5.4 0 1 0 10.80 0a5.4 5.4 0 1 0 -10.80 0zM536.95 482.86a5.4 5.4 0 1 0 10.80 0a5.4 5.4 0 1 0 -10.80 0zM541.11 486.11a5.4 5.4 0 1 0 10.80 0a5.4 5.4 0 1 0 -10.80 0zM545.08 488.93a5.4 5.4 0 1 0 10.80 0a5.4 5.4 0 1 0 -10.80 0zM548.89 491.38a5.4 5.4 0 1 0 10.80 0a5.4 5.4 0 1 0 -10.80 0zM552.54 493.51a5.4 5.4 0 1 0 10.80 0a5.4 5.4 0 1 0 -10.80 0zM556.05 495.36a5.4 5.4 0 1 0 10.80 0a5.4 5.4 0 1 0 -10.80 0zM559.43 496.96a5.4 5.4 0 1 0 10.80 0a5.4 5.4 0 1 0 -10.80 0zM562.68 498.36a5.4 5.4 0 1 0 10.80 0a5.4 5.4 0 1 0 -10.80 0zM565.82 499.57a5.4 5.4 0 1 0 10.80 0a5.4 5.4 0 1 0 -10.80 0zM568.86 500.63a5.4 5.4 0 1 0 10.80 0a5.4 5.4 0 1 0 -10.80 0zM571.79 501.54a5.4 5.4 0 1 0 10.80 0a5.4 5.4 0 1 0 -10.80 0zM574.64 502.34a5.4 5.4 0 1 0 10.80 0a5.4 5.4 0 1 0 -10.80 0zM577.39 503.03a5.4 5.4 0 1 0 10.80 0a5.4 5.4 0 1 0 -10.80 0zM580.07 503.63a5.4 5.4 0 1 0 10.80 0a5.4 5.4 0 1 0 -10.80 0zM582.66 504.15a5.4 5.4 0 1 0 10.80 0a5.4 5.4 0 1 0 -10.80 0zM585.19 504.60a5.4 5.4 0 1 0 10.80 0a5.4 5.4 0 1 0 -10.80 0zM587.64 505.00a5.4 5.4 0 1 0 10.80 0a5.4 5.4 0 1 0 -10.80 0zM590.03 505.34a5.4 5.4 0 1 0 10.80 0a5.4 5.4 0 1 0 -10.80 0zM592.36 505.63a5.4 5.4 0 1 0 10.80 0a5.4 5.4 0 1 0 -10.80 0zM594.62 505.89a5.4 5.4 0 1 0 10.80 0a5.4 5.4 0 1 0 -10.80 0zM596.84 506.12a5.4 5.4 0 1 0 10.80 0a5.4 5.4 0 1 0 -10.80 0zM599.00 506.31a5.4 5.4 0 1 0 10.80 0a5.4 5.4 0 1 0 -10.80 0zM601.10 506.48a5.4 5.4 0 1 0 10.80 0a5.4 5.4 0 1 0 -10.80 0zM603.16 506.63a5.4 5.4 0 1 0 10.80 0a5.4 5.4 0 1 0 -10.80 0zM605.18 506.75a5.4 5.4 0 1 0 10.80 0a5.4 5.4 0 1 0 -10.80 0zM607.15 506.87a5.4 5.4 0 1 0 10.80 0a5.4 5.4 0 1 0 -10.80 0zM609.08 506.96a5.4 5.4 0 1 0 10.80 0a5.4 5.4 0 1 0 -10.80 0zM610.96 507.05a5.4 5.4 0 1 0 10.80 0a5.4 5.4 0 1 0 -10.80 0zM612.81 507.12a5.4 5.4 0 1 0 10.80 0a5.4 5.4 0 1 0 -10.80 0zM614.62 507.18a5.4 5.4 0 1 0 10.80 0a5.4 5.4 0 1 0 -10.80 0zM616.40 507.24a5.4 5.4 0 1 0 10.80 0a5.4 5.4 0 1 0 -10.80 0zM618.14 507.28a5.4 5.4 0 1 0 10.80 0a5.4 5.4 0 1 0 -10.80 0zM619.84 507.33a5.4 5.4 0 1 0 10.80 0a5.4 5.4 0 1 0 -10.80 0zM621.52 507.36a5.4 5.4 0 1 0 10.80 0a5.4 5.4 0 1 0 -10.80 0zM623.17 507.39a5.4 5.4 0 1 0 10.80 0a5.4 5.4 0 1 0 -10.80 0zM624.78 507.42a5.4 5.4 0 1 0 10.80 0a5.4 5.4 0 1 0 -10.80 0zM626.37 507.44a5.4 5.4 0 1 0 10.80 0a5.4 5.4 0 1 0 -10.80 0zM627.93 507.46a5.4 5.4 0 1 0 10.80 0a5.4 5.4 0 1 0 -10.80 0zM629.46 507.48a5.4 5.4 0 1 0 10.80 0a5.4 5.4 0 1 0 -10.80 0zM630.97 507.50a5.4 5.4 0 1 0 10.80 0a5.4 5.4 0 1 0 -10.80 0zM632.45 507.51a5.4 5.4 0 1 0 10.80 0a5.4 5.4 0 1 0 -10.80 0zM633.91 507.52a5.4 5.4 0 1 0 10.80 0a5.4 5.4 0 1 0 -10.80 0zM635.34 507.53a5.4 5.4 0 1 0 10.80 0a5.4 5.4 0 1 0 -10.80 0zM636.76 507.54a5.4 5.4 0 1 0 10.80 0a5.4 5.4 0 1 0 -10.80 0zM638.15 507.55a5.4 5.4 0 1 0 10.80 0a5.4 5.4 0 1 0 -10.80 0zM639.51 507.56a5.4 5.4 0 1 0 10.80 0a5.4 5.4 0 1 0 -10.80 0zM640.86 507.56a5.4 5.4 0 1 0 10.80 0a5.4 5.4 0 1 0 -10.80 0zM642.19 507.57a5.4 5.4 0 1 0 10.80 0a5.4 5.4 0 1 0 -10.80 0zM643.50 507.57a5.4 5.4 0 1 0 10.80 0a5.4 5.4 0 1 0 -10.80 0zM644.79 507.57a5.4 5.4 0 1 0 10.80 0a5.4 5.4 0 1 0 -10.80 0zM646.06 507.58a5.4 5.4 0 1 0 10.80 0a5.4 5.4 0 1 0 -10.80 0zM647.32 507.58a5.4 5.4 0 1 0 10.80 0a5.4 5.4 0 1 0 -10.80 0zM648.56 507.58a5.4 5.4 0 1 0 10.80 0a5.4 5.4 0 1 0 -10.80 0zM649.78 507.59a5.4 5.4 0 1 0 10.80 0a5.4 5.4 0 1 0 -10.80 0zM650.98 507.59a5.4 5.4 0 1 0 10.80 0a5.4 5.4 0 1 0 -10.80 0zM652.17 507.59a5.4 5.4 0 1 0 10.80 0a5.4 5.4 0 1 0 -10.80 0zM653.34 507.59a5.4 5.4 0 1 0 10.80 0a5.4 5.4 0 1 0 -10.80 0zM654.50 507.59a5.4 5.4 0 1 0 10.80 0a5.4 5.4 0 1 0 -10.80 0zM655.64 507.59a5.4 5.4 0 1 0 10.80 0a5.4 5.4 0 1 0 -10.80 0zM656.77 507.59a5.4 5.4 0 1 0 10.80 0a5.4 5.4 0 1 0 -10.80 0zM657.88 507.59a5.4 5.4 0 1 0 10.80 0a5.4 5.4 0 1 0 -10.80 0zM658.98 507.60a5.4 5.4 0 1 0 10.80 0a5.4 5.4 0 1 0 -10.80 0zM660.07 507.60a5.4 5.4 0 1 0 10.80 0a5.4 5.4 0 1 0 -10.80 0zM661.15 507.60a5.4 5.4 0 1 0 10.80 0a5.4 5.4 0 1 0 -10.80 0zM662.21 507.60a5.4 5.4 0 1 0 10.80 0a5.4 5.4 0 1 0 -10.80 0zM663.26 507.60a5.4 5.4 0 1 0 10.80 0a5.4 5.4 0 1 0 -10.80 0zM664.29 507.60a5.4 5.4 0 1 0 10.80 0a5.4 5.4 0 1 0 -10.80 0zM665.32 507.60a5.4 5.4 0 1 0 10.80 0a5.4 5.4 0 1 0 -10.80 0zM666.33 507.60a5.4 5.4 0 1 0 10.80 0a5.4 5.4 0 1 0 -10.80 0zM667.34 507.60a5.4 5.4 0 1 0 10.80 0a5.4 5.4 0 1 0 -10.80 0zM668.33 507.60a5.4 5.4 0 1 0 10.80 0a5.4 5.4 0 1 0 -10.80 0zM669.31 507.60a5.4 5.4 0 1 0 10.80 0a5.4 5.4 0 1 0 -10.80 0zM670.28 507.60a5.4 5.4 0 1 0 10.80 0a5.4 5.4 0 1 0 -10.80 0zM671.24 507.60a5.4 5.4 0 1 0 10.80 0a5.4 5.4 0 1 0 -10.80 0zM672.19 507.60a5.4 5.4 0 1 0 10.80 0a5.4 5.4 0 1 0 -10.80 0zM673.13 507.60a5.4 5.4 0 1 0 10.80 0a5.4 5.4 0 1 0 -10.80 0zM674.06 507.60a5.4 5.4 0 1 0 10.80 0a5.4 5.4 0 1 0 -10.80 0zM674.98 507.60a5.4 5.4 0 1 0 10.80 0a5.4 5.4 0 1 0 -10.80 0zM675.89 507.60a5.4 5.4 0 1 0 10.80 0a5.4 5.4 0 1 0 -10.80 0z" stroke="#0000FF" stroke-width="2.1" stroke-linejoin="round"/>
<polyline points="61.65,22.07 123.91,32.61 160.33,42.62 186.17,52.79 206.21,62.31 222.58,71.59 236.43,80.58 248.42,89.36 259.00,97.81 268.47,106.09 277.03,114.20 284.84,122.20 292.03,130.03 298.69,137.70 304.89,145.20 310.68,152.54 316.13,159.72 321.26,166.75 326.12,173.64 330.72,180.37 335.11,186.96 339.29,193.45 343.28,199.80 347.10,206.01 350.77,212.09 354.29,218.05 357.68,223.88 360.95,229.58 364.10,235.17 367.14,240.64 370.09,245.99 372.94,251.23 375.70,256.37 378.39,261.40 380.99,266.32 383.52,271.14 385.98,275.86 388.38,280.49 390.71,285.02 392.98,289.46 395.20,293.80 397.37,298.06 399.48,302.23 401.54,306.31 403.56,310.31 405.54,314.23 407.47,318.07 409.36,321.84 411.21,325.52 413.03,329.13 414.80,332.67 416.55,336.14 418.26,339.54 419.94,342.86 421.59,346.12 423.20,349.32 424.79,352.45 426.36,355.52 427.89,358.53 429.40,361.47 430.89,364.36 432.35,367.19 433.78,369.96 435.20,372.68 436.59,375.34 437.96,377.95 439.31,380.51 440.64,383.02 441.95,385.47 443.25,387.88 444.52,390.24 445.78,392.55 447.02,394.82 448.24,397.04 449.44,399.22 450.63,401.35 451.81,403.45 452.97,405.50 454.11,407.51 455.24,409.48 456.36,411.41 457.46,413.30 458.55,415.15 459.62,416.97 460.69,418.76 461.74,420.50 462.77,422.21 463.80,423.89 464.82,425.54 465.82,427.15 466.81,428.73 467.79,430.28 468.77,431.80 469.73,433.29 470.68,434.75 471.62,436.18 472.55,437.59 473.47,438.96 474.38,440.31 475.28,461.01 476.18,462.10 477.06,463.15 477.94,464.18 478.81,465.19 479.67,466.18 480.52,467.14 481.36,468.08 482.20,469.00 483.02,469.89 483.84,470.77 484.66,471.63 485.46,472.46 486.26,473.28 487.05,474.07 487.84,474.85 488.61,475.61 489.39,476.36 490.15,477.08 490.91,477.79 491.66,478.48 492.40,479.16 493.14,479.82 493.88,480.47 494.60,481.10 495.33,481.71 496.04,482.31 496.75,482.90 497.46,483.47 498.16,484.03 498.85,484.58 499.54,485.12 500.22,485.64 500.90,486.15 501.57,486.65 502.24,487.13 502.90,487.61 503.56,488.07 504.21,488.53 504.86,488.97 505.51,489.40 506.14,489.82 506.78,490.24 507.41,490.64 508.04,491.03 508.66,491.42 509.27,491.80 509.89,492.16 510.50,492.52 511.10,492.87 511.70,493.21 512.30,493.55 512.89,493.87 513.48,494.19 514.07,494.50 514.65,494.81 515.22,495.11 515.80,495.40 516.37,495.68 516.94,495.96 517.50,496.23 518.06,496.49 518.61,496.75 519.17,497.00 519.72,497.25 520.26,497.49 520.81,497.72 521.34,497.95 521.88,498.18 522.41,498.39 522.94,498.61 523.47,498.82 523.99,499.02 524.52,499.22 525.03,499.41 525.55,499.61 526.06,499.79 526.57,499.97 527.07,500.15 527.58,500.32 528.08,500.49 528.58,500.66 529.07,500.82 529.56,500.98 530.05,501.13 530.54,501.28 531.02,501.43 531.50,501.57 531.98,501.71 532.46,501.85 532.93,501.98 533.41,502.11 533.87,502.24 534.34,502.36 534.81,502.48 535.27,502.60 535.73,502.72 536.18,502.83 536.64,502.94 537.09,503.05 537.54,503.16 537.99,503.26 538.44,503.36 538.88,503.46 539.32,503.56 539.76,503.65 540.20,503.74 540.63,503.83 541.06,503.92 541.49,504.00 541.92,504.09 542.35,504.17 542.78,504.25 543.20,504.33 543.62,504.40 544.04,504.48 544.45,504.55 544.87,504.62 545.28,504.69 545.69,504.76 546.10,504.82 546.51,504.89 546.91,504.95 547.32,505.01 547.72,505.07 548.12,505.13 548.52,505.19 548.92,505.24 549.31,505.30 549.70,505.35 550.09,505.40 550.48,505.46 550.87,505.51 551.26,505.55 551.64,505.60 552.03,505.65 552.41,505.69 552.79,505.74 553.17,505.78 553.54,505.82 553.92,505.86 554.29,505.90 554.66,505.94 555.03,505.98 555.40,506.02 555.77,506.06 556.14,506.09 556.50,506.13 556.86,506.16 557.22,506.20 557.58,506.23 557.94,506.26 558.30,506.29 558.66,506.32 559.01,506.35 559.36,506.38 559.71,506.41 560.06,506.44 560.41,506.46 560.76,506.49 561.11,506.52 561.45,506.54 561.80,506.57 562.14,506.59 562.48,506.61 562.82,506.64 563.16,506.66 563.49,506.68 563.83,506.70 564.16,506.72 564.50,506.74 564.83,506.76 565.16,506.78 565.49,506.80 565.82,506.82 566.14,506.84 566.47,506.86 566.80,506.87 567.12,506.89 567.44,506.91 567.76,506.92 568.08,506.94 568.40,506.95 568.72,506.97 569.04,506.98 569.35,507.00 569.67,507.01 569.98,507.02 570.29,507.04 570.60,507.05 570.91,507.06 571.22,507.08 571.53,507.09 571.84,507.10 572.15,507.11 572.45,507.12 572.75,507.13 573.06,507.15 573.36,507.16 573.66,507.17 573.96,507.18 574.26,507.19 574.56,507.20 574.85,507.21 575.15,507.21 575.44,507.22 575.74,507.23 576.03,507.24 576.32,507.25 576.61,507.26 576.91,507.27 577.19,507.27 577.48,507.28 577.77,507.29 578.06,507.30 578.34,507.30 578.63,507.31 578.91,507.32 579.19,507.32 579.48,507.33 579.76,507.34 580.04,507.34 580.32,507.35 580.59,507.35 580.87,507.36 581.15,507.36 581.43,507.37 581.70,507.38 581.97,507.38 582.25,507.39 582.52,507.39 582.79,507.40 583.06,507.40 583.33,507.40 583.60,507.41 583.87,507.41 584.14,507.42 584.41,507.42 584.67,507.43 584.94,507.43 585.20,507.43 585.47,507.44 585.73,507.44 585.99,507.45 586.25,507.45 586.51,507.45 586.77,507.46 587.03,507.46 587.29,507.46 587.55,507.47 587.81,507.47 588.06,507.47 588.32,507.48 588.57,507.48 588.83,507.48 589.08,507.48 589.33,507.49 589.58,507.49 589.84,507.49 590.09,507.49 590.34,507.50 590.59,507.50 590.83,507.50 591.08,507.50 591.33,507.51 591.57,507.51 591.82,507.51 592.07,507.51 592.31,507.51 592.55,507.52 592.80,507.52 593.04,507.52 593.28,507.52 593.52,507.52 593.76,507.53 594.00,507.53 594.24,507.53 594.48,507.53 594.72,507.53 594.96,507.53 595.19,507.54 595.43,507.54 595.66,507.54 595.90,507.54 596.13,507.54 596.37,507.54 596.60,507.54 596.83,507.55 597.06,507.55 597.29,507.55 597.53,507.55 597.76,507.55 597.98,507.55 598.21,507.55 598.44,507.55 598.67,507.55 598.90,507.56 599.12,507.56 599.35,507.56 599.57,507.56 599.80,507.56 600.02,507.56 600.25,507.56 600.47,507.56 600.69,507.56 600.92,507.56 601.14,507.56 601.36,507.57 601.58,507.57 601.80,507.57 602.02,507.57 602.24,507.57 602.45,507.57 602.67,507.57 602.89,507.57 603.11,507.57 603.32,507.57 603.54,507.57 603.75,507.57 603.97,507.57 604.18,507.57 604.40,507.58 604.61,507.58 604.82,507.58 605.03,507.58 605.24,507.58 605.46,507.58 605.67,507.58 605.88,507.58 606.09,507.58 606.30,507.58 606.50,507.58 606.71,507.58 606.92,507.58 607.13,507.58 607.33,507.58 607.54,507.58 607.75,507.58 607.95,507.58 608.16,507.58 608.36,507.58 608.56,507.58 608.77,507.58 608.97,507.59 609.17,507.59 609.37,507.59 609.58,507.59 609.78,507.59 609.98,507.59 610.18,507.59 610.38,507.59 610.58,507.59 610.78,507.59 610.98,507.59 611.17,507.59 611.37,507.59 611.57,507.59 611.77,507.59 611.96,507.59 612.16,507.59 612.35,507.59 612.55,507.59 612.74,507.59 612.94,507.59 613.13,507.59 613.32,507.59 613.52,507.59 613.71,507.59 613.90,507.59 614.09,507.59 614.28,507.59 614.48,507.59 614.67,507.59 614.86,507.59 615.05,507.59 615.23,507.59 615.42,507.59 615.61,507.59 615.80,507.59 615.99,507.59 616.18,507.59 616.36,507.59 616.55,507.59 616.73,507.59 616.92,507.59 617.11,507.59 617.29,507.59 617.48,507.59 617.66,507.59 617.84,507.60 618.03,507.60 618.21,507.60 618.39,507.60 618.58,507.60 618.76,507.60 618.94,507.60 619.12,507.60 619.30,507.60 619.48,507.60 619.66,507.60 619.84,507.60 620.02,507.60 620.20,507.60 620.38,507.60 620.56,507.60 620.74,507.60 620.91,507.60 621.09,507.60 621.27,507.60 621.44,507.60 621.62,507.60 621.80,507.60 621.97,507.60 622.15,507.60 622.32,507.60 622.50,507.60 622.67,507.60 622.85,507.60 623.02,507.60 623.19,507.60 623.36,507.60 623.54,507.60 623.71,507.60 623.88,507.60 624.05,507.60 624.22,507.60 624.40,507.60 624.57,507.60 624.74,507.60 624.91,507.60 625.08,507.60 625.24,507.60 625.41,507.60 625.58,507.60 625.75,507.60 625.92,507.60 626.09,507.60 626.25,507.60 626.42,507.60 626.59,507.60 626.75,507.60 626.92,507.60 627.09,507.60 627.25,507.60 627.42,507.60 627.58,507.60 627.75,507.60 627.91,507.60 628.08,507.60 628.24,507.60 628.40,507.60 628.57,507.60 628.73,507.60 628.89,507.60 629.05,507.60 629.22,507.60 629.38,507.60 629.54,507.60 629.70,507.60 629.86,507.60 630.02,507.60 630.18,507.60 630.34,507.60 630.50,507.60 630.66,507.60 630.82,507.60 630.98,507.60 631.14,507.60 631.30,507.60 631.45,507.60 631.61,507.60 631.77,507.60 631.93,507.60 632.08,507.60 632.24,507.60 632.40,507.60 632.55,507.60 632.71,507.60 632.86,507.60 633.02,507.60 633.17,507.60 633.33,507.60 633.48,507.60 633.64,507.60 633.79,507.60 633.94,507.60 634.10,507.60 634.25,507.60 634.40,507.60 634.56,507.60 634.71,507.60 634.86,507.60 635.01,507.60 635.16,507.60 635.32,507.60 635.47,507.60 635.62,507.60 635.77,507.60 635.92,507.60 636.07,507.60 636.22,507.60 636.37,507.60 636.52,507.60 636.67,507.60 636.81,507.60 636.96,507.60 637.11,507.60 637.26,507.60 637.41,507.60 637.56,507.60 637.70,507.60 637.85,507.60 638.00,507.60 638.14,507.60 638.29,507.60 638.44,507.60 638.58,507.60 638.73,507.60 638.87,507.60 639.02,507.60 639.16,507.60 639.31,507.60 639.45,507.60 639.60,507.60 639.74,507.60 639.88,507.60 640.03,507.60 640.17,507.60 640.31,507.60 640.46,507.60 640.60,507.60 640.74,507.60 640.88,507.60 641.03,507.60 641.17,507.60 641.31,507.60 641.45,507.60 641.59,507.60 641.73,507.60 641.87,507.60 642.01,507.60 642.16,507.60 642.30,507.60 642.43,507.60 642.57,507.60 642.71,507.60 642.85,507.60 642.99,507.60 643.13,507.60 643.27,507.60 643.41,507.60 643.55,507.60 643.68,507.60 643.82,507.60 643.96,507.60 644.10,507.60 644.23,507.60 644.37,507.60 644.51,507.60 644.64,507.60 644.78,507.60 644.91,507.60 645.05,507.60 645.19,507.60 645.32,507.60 645.46,507.60 645.59,507.60 645.73,507.60 645.86,507.60 646.00,507.60 646.13,507.60 646.26,507.60 646.40,507.60 646.53,507.60 646.66,507.60 646.80,507.60 646.93,507.60 647.06,507.60 647.20,507.60 647.33,507.60 647.46,507.60 647.59,507.60 647.72,507.60 647.86,507.60 647.99,507.60 648.12,507.60 648.25,507.60 648.38,507.60 648.51,507.60 648.64,507.60 648.77,507.60 648.90,507.60 649.03,507.60 649.16,507.60 649.29,507.60 649.42,507.60 649.55,507.60 649.68,507.60 649.81,507.60 649.94,507.60 650.06,507.60 650.19,507.60 650.32,507.60 650.45,507.60 650.58,507.60 650.70,507.60 650.83,507.60 650.96,507.60 651.08,507.60 651.21,507.60 651.34,507.60 651.46,507.60 651.59,507.60 651.72,507.60 651.84,507.60 651.97,507.60 652.09,507.60 652.22,507.60 652.34,507.60 652.47,507.60 652.59,507.60 652.72,507.60 652.84,507.60 652.97,507.60 653.09,507.60 653.22,507.60 653.34,507.60 653.46,507.60 653.59,507.60 653.71,507.60 653.83,507.60 653.96,507.60 654.08,507.60 654.20,507.60 654.32,507.60 654.45,507.60 654.57,507.60 654.69,507.60 654.81,507.60 654.93,507.60 655.05,507.60 655.18,507.60 655.30,507.60 655.42,507.60 655.54,507.60 655.66,507.60 655.78,507.60 655.90,507.60 656.02,507.60 656.14,507.60 656.26,507.60 656.38,507.60 656.50,507.60 656.62,507.60 656.74,507.60 656.86,507.60 656.98,507.60 657.10,507.60 657.21,507.60 657.33,507.60 657.45,507.60 657.57,507.60 657.69,507.60 657.80,507.60 657.92,507.60 658.04,507.60 658.16,507.60 658.27,507.60 658.39,507.60 658.51,507.60 658.62,507.60 658.74,507.60 658.86,507.60 658.97,507.60 659.09,507.60 659.21,507.60 659.32,507.60 659.44,507.60 659.55,507.60 659.67,507.60 659.78,507.60 659.90,507.60 660.01,507.60 660.13,507.60 660.24,507.60 660.36,507.60 660.47,507.60 660.59,507.60 660.70,507.60 660.81,507.60 660.93,507.60 661.04,507.60 661.15,507.60 661.27,507.60 661.38,507.60 661.49,507.60 661.61,507.60 661.72,507.60 661.83,507.60 661.95,507.60 662.06,507.60 662.17,507.60 662.28,507.60 662.39,507.60 662.51,507.60 662.62,507.60 662.73,507.60 662.84,507.60 662.95,507.60 663.06,507.60 663.17,507.60 663.28,507.60 663.39,507.60 663.51,507.60 663.62,507.60 663.73,507.60 663.84,507.60 663.95,507.60 664.06,507.60 664.17,507.60 664.28,507.60 664.38,507.60 664.49,507.60 664.60,507.60 664.71,507.60 664.82,507.60 664.93,507.60 665.04,507.60 665.15,507.60 665.26,507.60 665.36,507.60 665.47,507.60 665.58,507.60 665.69,507.60 665.80,507.60 665.90,507.60 666.01,507.60 666.12,507.60 666.23,507.60 666.33,507.60 666.44,507.60 666.55,507.60 666.65,507.60 666.76,507.60 666.87,507.60 666.97,507.60 667.08,507.60 667.19,507.60 667.29,507.60 667.40,507.60 667.50,507.60 667.61,507.60 667.71,507.60 667.82,507.60 667.92,507.60 668.03,507.60 668.13,507.60 668.24,507.60 668.34,507.60 668.45,507.60 668.55,507.60 668.66,507.60 668.76,507.60 668.87,507.60 668.97,507.60 669.07,507.60 669.18,507.60 669.28,507.60 669.38,507.60 669.49,507.60 669.59,507.60 669.69,507.60 669.80,507.60 669.90,507.60 670.00,507.60 670.11,507.60 670.21,507.60 670.31,507.60 670.41,507.60 670.52,507.60 670.62,507.60 670.72,507.60 670.82,507.60 670.92,507.60 671.03,507.60 671.13,507.60 671.23,507.60 671.33,507.60 671.43,507.60 671.53,507.60 671.63,507.60 671.73,507.60 671.83,507.60 671.94,507.60 672.04,507.60 672.14,507.60 672.24,507.60 672.34,507.60 672.44,507.60 672.54,507.60 672.64,507.60 672.74,507.60 672.84,507.60 672.94,507.60 673.03,507.60 673.13,507.60 673.23,507.60 673.33,507.60 673.43,507.60 673.53,507.60 673.63,507.60 673.73,507.60 673.83,507.60 673.92,507.60 674.02,507.60 674.12,507.60 674.22,507.60 674.32,507.60 674.42,507.60 674.51,507.60 674.61,507.60 674.71,507.60 674.81,507.60 674.90,507.60 675.00,507.60 675.10,507.60 675.19,507.60 675.29,507.60 675.39,507.60 675.49,507.60 675.58,507.60 675.68,507.60 675.77,507.60 675.87,507.60 675.97,507.60 676.06,507.60 676.16,507.60 676.26,507.60 676.35,507.60 676.45,507.60 676.54,507.60 676.64,507.60 676.73,507.60 676.83,507.60 676.92,507.60 677.02,507.60 677.11,507.60 677.21,507.60 677.30,507.60 677.40,507.60 677.49,507.60 677.59,507.60 677.68,507.60 677.78,507.60 677.87,507.60 677.96,507.60 678.06,507.60 678.15,507.60 678.25,507.60 678.34,507.60 678.43,507.60 678.53,507.60 678.62,507.60 678.71,507.60 678.81,507.60 678.90,507.60 678.99,507.60 679.09,507.60 679.18,507.60 679.27,507.60 679.36,507.60 679.46,507.60 679.55,507.60 679.64,507.60 679.73,507.60 679.83,507.60 679.92,507.60 680.01,507.60 680.10,507.60 680.19,507.60 680.29,507.60 680.38,507.60 680.47,507.60 680.56,507.60 680.65,507.60 680.74,507.60 680.83,507.60 680.92,507.60 681.02,507.60 681.11,507.60 681.20,507.60 681.29,507.60 681.38,507.60 681.47,507.60 681.56,507.60 681.65,507.60 681.74,507.60 681.83,507.60 681.92,507.60 682.01,507.60 682.10,507.60" stroke="#FF8000" stroke-width="3.6"/>
<path d="M61.65 14.67L68.05 25.77H55.25zM277.03 106.80L283.43 117.90H270.63zM335.11 179.56L341.51 190.66H328.71zM370.09 238.59L376.49 249.69H363.69zM395.20 286.40L401.60 297.50H388.80zM414.80 325.27L421.20 336.37H408.40zM430.89 356.96L437.29 368.06H424.49zM444.52 382.84L450.92 393.94H438.12zM456.36 404.01L462.76 415.11H449.96zM466.81 421.33L473.21 432.43H460.41zM476.18 454.70L482.58 465.80H469.78zM484.66 464.23L491.06 475.33H478.26zM492.40 471.76L498.80 482.86H486.00zM499.54 477.72L505.94 488.82H493.14zM506.14 482.42L512.54 493.52H499.74zM512.30 486.15L518.70 497.25H505.90zM518.06 489.09L524.46 500.19H511.66zM523.47 491.42L529.87 502.52H517.07zM528.58 493.26L534.98 504.36H522.18zM533.41 494.71L539.81 505.81H527.01zM537.99 495.86L544.39 506.96H531.59zM542.35 496.77L548.75 507.87H535.95zM546.51 497.49L552.91 508.59H540.11zM550.48 498.06L556.88 509.16H544.08zM554.29 498.50L560.69 509.60H547.89zM557.94 498.86L564.34 509.96H551.54zM561.45 499.14L567.85 510.24H555.05zM564.83 499.36L571.23 510.46H558.43zM568.08 499.54L574.48 510.64H561.68zM571.22 499.68L577.62 510.78H564.82zM574.26 499.79L580.66 510.89H567.86zM577.19 499.87L583.59 510.97H570.79zM580.04 499.94L586.44 511.04H573.64zM582.79 500.00L589.19 511.10H576.39zM585.47 500.04L591.87 511.14H579.07zM588.06 500.07L594.46 511.17H581.66zM590.59 500.10L596.99 511.20H584.19zM593.04 500.12L599.44 511.22H586.64zM595.43 500.14L601.83 511.24H589.03zM597.76 500.15L604.16 511.25H591.36zM600.02 500.16L606.42 511.26H593.62zM602.24 500.17L608.64 511.27H595.84zM604.40 500.18L610.80 511.28H598.00zM606.50 500.18L612.90 511.28H600.10zM608.56 500.18L614.96 511.28H602.16zM610.58 500.19L616.98 511.29H604.18zM612.55 500.19L618.95 511.29H606.15zM614.48 500.19L620.88 511.29H608.08zM616.36 500.19L622.76 511.29H609.96zM618.21 500.20L624.61 511.30H611.81zM620.02 500.20L626.42 511.30H613.62zM621.80 500.20L628.20 511.30H615.40zM623.54 500.20L629.94 511.30H617.14zM625.24 500.20L631.64 511.30H618.84zM626.92 500.20L633.32 511.30H620.52zM628.57 500.20L634.97 511.30H622.17zM630.18 500.20L636.58 511.30H623.78zM631.77 500.20L638.17 511.30H625.37zM633.33 500.20L639.73 511.30H626.93zM634.86 500.20L641.26 511.30H628.46zM636.37 500.20L642.77 511.30H629.97zM637.85 500.20L644.25 511.30H631.45zM639.31 500.20L645.71 511.30H632.91zM640.74 500.20L647.14 511.30H634.34zM642.16 500.20L648.56 511.30H635.76zM643.55 500.20L649.95 511.30H637.15zM644.91 500.20L651.31 511.30H638.51zM646.26 500.20L652.66 511.30H639.86zM647.59 500.20L653.99 511.30H641.19zM648.90 500.20L655.30 511.30H642.50zM650.19 500.20L656.59 511.30H643.79zM651.46 500.20L657.86 511.30H645.06zM652.72 500.20L659.12 511.30H646.32zM653.96 500.20L660.36 511.30H647.56zM655.18 500.20L661.58 511.30H648.78zM656.38 500.20L662.78 511.30H649.98zM657.57 500.20L663.97 511.30H651.17zM658.74 500.20L665.14 511.30H652.34zM659.90 500.20L666.30 511.30H653.50zM661.04 500.20L667.44 511.30H654.64zM662.17 500.20L668.57 511.30H655.77zM663.28 500.20L669.68 511.30H656.88zM664.38 500.20L670.78 511.30H657.98zM665.47 500.20L671.87 511.30H659.07zM666.55 500.20L672.95 511.30H660.15zM667.61 500.20L674.01 511.30H661.21zM668.66 500.20L675.06 511.30H662.26zM669.69 500.20L676.09 511.30H663.29zM670.72 500.20L677.12 511.30H664.32zM671.73 500.20L678.13 511.30H665.33zM672.74 500.20L679.14 511.30H666.34zM673.73 500.20L680.13 511.30H667.33zM674.71 500.20L681.11 511.30H668.31zM675.68 500.20L682.08 511.30H669.28zM676.64 500.20L683.04 511.30H670.24zM677.59 500.20L683.99 511.30H671.19zM678.53 500.20L684.93 511.30H672.13zM679.46 500.20L685.86 511.30H673.06zM680.38 500.20L686.78 511.30H673.98zM681.29 500.20L687.69 511.30H674.89z" stroke="#FF8000" stroke-width="2.1" stroke-linejoin="round"/>
<polyline points="61.65,26.70 123.91,41.66 160.33,56.05 186.17,69.91 206.21,83.28 222.58,96.18 236.43,108.64 248.42,120.68 259.00,132.31 268.47,143.57 277.03,154.46 284.84,165.00 292.03,175.21 298.69,185.10 304.89,194.68 310.68,203.97 316.13,212.97 321.26,221.69 326.12,230.15 330.72,238.35 335.11,246.31 339.29,254.02 343.28,261.51 347.10,268.77 350.77,275.81 354.29,282.64 357.68,289.27 360.95,295.70 364.10,301.95 367.14,308.00 370.09,313.88 372.94,319.58 375.70,325.12 378.39,330.49 380.99,335.70 383.52,340.76 385.98,345.67 388.38,350.43 390.71,355.06 392.98,359.54 395.20,363.90 397.37,368.13 399.48,372.23 401.54,376.21 403.56,380.08 405.54,383.83 407.47,387.47 409.36,391.00 411.21,394.43 413.03,397.76 414.80,400.99 416.55,404.12 418.26,407.17 419.94,410.12 421.59,412.99 423.20,415.77 424.79,418.47 426.36,421.09 427.89,423.64 429.40,426.11 430.89,428.50 432.35,430.83 433.78,433.09 435.20,435.28 436.59,437.41 437.96,439.47 439.31,441.47 440.64,443.42 441.95,445.31 443.25,447.14 444.52,448.92 445.78,450.64 447.02,452.32 448.24,453.94 449.44,455.52 450.63,457.05 451.81,458.54 452.97,459.98 454.11,461.38 455.24,462.74 456.36,464.06 457.46,465.34 458.55,466.58 459.62,467.79 460.69,468.96 461.74,470.10 462.77,471.20 463.80,472.27 464.82,473.31 465.82,474.32 466.81,475.30 467.79,476.25 468.77,477.17 469.73,478.06 470.68,478.93 471.62,479.78 472.55,480.59 473.47,481.39 474.38,482.16 475.28,492.96 476.18,493.48 477.06,493.98 477.94,494.46 478.81,494.92 479.67,495.37 480.52,495.80 481.36,496.22 482.20,496.62 483.02,497.01 483.84,497.39 484.66,497.75 485.46,498.10 486.26,498.43 487.05,498.76 487.84,499.07 488.61,499.37 489.39,499.66 490.15,499.94 490.91,500.21 491.66,500.47 492.40,500.73 493.14,500.97 493.88,501.20 494.60,501.43 495.33,501.65 496.04,501.86 496.75,502.06 497.46,502.26 498.16,502.45 498.85,502.63 499.54,502.80 500.22,502.97 500.90,503.14 501.57,503.29 502.24,503.45 502.90,503.59 503.56,503.74 504.21,503.87 504.86,504.00 505.51,504.13 506.14,504.25 506.78,504.37 507.41,504.49 508.04,504.60 508.66,504.70 509.27,504.81 509.89,504.90 510.50,505.00 511.10,505.09 511.70,505.18 512.30,505.27 512.89,505.35 513.48,505.43 514.07,505.50 514.65,505.58 515.22,505.65 515.80,505.72 516.37,505.79 516.94,505.85 517.50,505.91 518.06,505.97 518.61,506.03 519.17,506.08 519.72,506.14 520.26,506.19 520.81,506.24 521.34,506.29 521.88,506.33 522.41,506.38 522.94,506.42 523.47,506.46 523.99,506.50 524.52,506.54 525.03,506.58 525.55,506.62 526.06,506.65 526.57,506.68 527.07,506.72 527.58,506.75 528.08,506.78 528.58,506.81 529.07,506.84 529.56,506.86 530.05,506.89 530.54,506.91 531.02,506.94 531.50,506.96 531.98,506.98 532.46,507.01 532.93,507.03 533.41,507.05 533.87,507.07 534.34,507.09 534.81,507.10 535.27,507.12 535.73,507.14 536.18,507.15 536.64,507.17 537.09,507.19 537.54,507.20 537.99,507.21 538.44,507.23 538.88,507.24 539.32,507.25 539.76,507.27 540.20,507.28 540.63,507.29 541.06,507.30 541.49,507.31 541.92,507.32 542.35,507.33 542.78,507.34 543.20,507.35 543.62,507.36 544.04,507.37 544.45,507.38 544.87,507.38 545.28,507.39 545.69,507.40 546.10,507.41 546.51,507.41 546.91,507.42 547.32,507.43 547.72,507.43 548.12,507.44 548.52,507.44 548.92,507.45 549.31,507.45 549.70,507.46 550.09,507.46 550.48,507.47 550.87,507.47 551.26,507.48 551.64,507.48 552.03,507.49 552.41,507.49 552.79,507.49 553.17,507.50 553.54,507.50 553.92,507.51 554.29,507.51 554.66,507.51 555.03,507.51 555.40,507.52 555.77,507.52 556.14,507.52 556.50,507.53 556.86,507.53 557.22,507.53 557.58,507.53 557.94,507.54 558.30,507.54 558.66,507.54 559.01,507.54 559.36,507.54 559.71,507.55 560.06,507.55 560.41,507.55 560.76,507.55 561.11,507.55 561.45,507.56 561.80,507.56 562.14,507.56 562.48,507.56 562.82,507.56 563.16,507.56 563.49,507.56 563.83,507.57 564.16,507.57 564.50,507.57 564.83,507.57 565.16,507.57 565.49,507.57 565.82,507.57 566.14,507.57 566.47,507.57 566.80,507.57 567.12,507.58 567.44,507.58 567.76,507.58 568.08,507.58 568.40,507.58 568.72,507.58 569.04,507.58 569.35,507.58 569.67,507.58 569.98,507.58 570.29,507.58 570.60,507.58 570.91,507.58 571.22,507.58 571.53,507.59 571.84,507.59 572.15,507.59 572.45,507.59 572.75,507.59 573.06,507.59 573.36,507.59 573.66,507.59 573.96,507.59 574.26,507.59 574.56,507.59 574.85,507.59 575.15,507.59 575.44,507.59 575.74,507.59 576.03,507.59 576.32,507.59 576.61,507.59 576.91,507.59 577.19,507.59 577.48,507.59 577.77,507.59 578.06,507.59 578.34,507.59 578.63,507.59 578.91,507.59 579.19,507.59 579.48,507.59 579.76,507.59 580.04,507.59 580.32,507.60 580.59,507.60 580.87,507.60 581.15,507.60 581.43,507.60 581.70,507.60 581.97,507.60 582.25,507.60 582.52,507.60 582.79,507.60 583.06,507.60 583.33,507.60 583.60,507.60 583.87,507.60 584.14,507.60 584.41,507.60 584.67,507.60 584.94,507.60 585.20,507.60 585.47,507.60 585.73,507.60 585.99,507.60 586.25,507.60 586.51,507.60 586.77,507.60 587.03,507.60 587.29,507.60 587.55,507.60 587.81,507.60 588.06,507.60 588.32,507.60 588.57,507.60 588.83,507.60 589.08,507.60 589.33,507.60 589.58,507.60 589.84,507.60 590.09,507.60 590.34,507.60 590.59,507.60 590.83,507.60 591.08,507.60 591.33,507.60 591.57,507.60 591.82,507.60 592.07,507.60 592.31,507.60 592.55,507.60 592.80,507.60 593.04,507.60 593.28,507.60 593.52,507.60 593.76,507.60 594.00,507.60 594.24,507.60 594.48,507.60 594.72,507.60 594.96,507.60 595.19,507.60 595.43,507.60 595.66,507.60 595.90,507.60 596.13,507.60 596.37,507.60 596.60,507.60 596.83,507.60 597.06,507.60 597.29,507.60 597.53,507.60 597.76,507.60 597.98,507.60 598.21,507.60 598.44,507.60 598.67,507.60 598.90,507.60 599.12,507.60 599.35,507.60 599.57,507.60 599.80,507.60 600.02,507.60 600.25,507.60 600.47,507.60 600.69,507.60 600.92,507.60 601.14,507.60 601.36,507.60 601.58,507.60 601.80,507.60 602.02,507.60 602.24,507.60 602.45,507.60 602.67,507.60 602.89,507.60 603.11,507.60 603.32,507.60 603.54,507.60 603.75,507.60 603.97,507.60 604.18,507.60 604.40,507.60 604.61,507.60 604.82,507.60 605.03,507.60 605.24,507.60 605.46,507.60 605.67,507.60 605.88,507.60 606.09,507.60 606.30,507.60 606.50,507.60 606.71,507.60 606.92,507.60 607.13,507.60 607.33,507.60 607.54,507.60 607.75,507.60 607.95,507.60 608.16,507.60 608.36,507.60 608.56,507.60 608.77,507.60 608.97,507.60 609.17,507.60 609.37,507.60 609.58,507.60 609.78,507.60 609.98,507.60 610.18,507.60 610.38,507.60 610.58,507.60 610.78,507.60 610.98,507.60 611.17,507.60 611.37,507.60 611.57,507.60 611.77,507.60 611.96,507.60 612.16,507.60 612.35,507.60 612.55,507.60 612.74,507.60 612.94,507.60 613.13,507.60 613.32,507.60 613.52,507.60 613.71,507.60 613.90,507.60 614.09,507.60 614.28,507.60 614.48,507.60 614.67,507.60 614.86,507.60 615.05,507.60 615.23,507.60 615.42,507.60 615.61,507.60 615.80,507.60 615.99,507.60 616.18,507.60 616.36,507.60 616.55,507.60 616.73,507.60 616.92,507.60 617.11,507.60 617.29,507.60 617.48,507.60 617.66,507.60 617.84,507.60 618.03,507.60 618.21,507.60 618.39,507.60 618.58,507.60 618.76,507.60 618.94,507.60 619.12,507.60 619.30,507.60 619.48,507.60 619.66,507.60 619.84,507.60 620.02,507.60 620.20,507.60 620.38,507.60 620.56,507.60 620.74,507.60 620.91,507.60 621.09,507.60 621.27,507.60 621.44,507.60 621.62,507.60 621.80,507.60 621.97,507.60 622.15,507.60 622.32,507.60 622.50,507.60 622.67,507.60 622.85,507.60 623.02,507.60 623.19,507.60 623.36,507.60 623.54,507.60 623.71,507.60 623.88,507.60 624.05,507.60 624.22,507.60 624.40,507.60 624.57,507.60 624.74,507.60 624.91,507.60 625.08,507.60 625.24,507.60 625.41,507.60 625.58,507.60 625.75,507.60 625.92,507.60 626.09,507.60 626.25,507.60 626.42,507.60 626.59,507.60 626.75,507.60 626.92,507.60 627.09,507.60 627.25,507.60 627.42,507.60 627.58,507.60 627.75,507.60 627.91,507.60 628.08,507.60 628.24,507.60 628.40,507.60 628.57,507.60 628.73,507.60 628.89,507.60 629.05,507.60 629.22,507.60 629.38,507.60 629.54,507.60 629.70,507.60 629.86,507.60 630.02,507.60 630.18,507.60 630.34,507.60 630.50,507.60 630.66,507.60 630.82,507.60 630.98,507.60 631.14,507.60 631.30,507.60 631.45,507.60 631.61,507.60 631.77,507.60 631.93,507.60 632.08,507.60 632.24,507.60 632.40,507.60 632.55,507.60 632.71,507.60 632.86,507.60 633.02,507.60 633.17,507.60 633.33,507.60 633.48,507.60 633.64,507.60 633.79,507.60 633.94,507.60 634.10,507.60 634.25,507.60 634.40,507.60 634.56,507.60 634.71,507.60 634.86,507.60 635.01,507.60 635.16,507.60 635.32,507.60 635.47,507.60 635.62,507.60 635.77,507.60 635.92,507.60 636.07,507.60 636.22,507.60 636.37,507.60 636.52,507.60 636.67,507.60 636.81,507.60 636.96,507.60 637.11,507.60 637.26,507.60 637.41,507.60 637.56,507.60 637.70,507.60 637.85,507.60 638.00,507.60 638.14,507.60 638.29,507.60 638.44,507.60 638.58,507.60 638.73,507.60 638.87,507.60 639.02,507.60 639.16,507.60 639.31,507.60 639.45,507.60 639.60,507.60 639.74,507.60 639.88,507.60 640.03,507.60 640.17,507.60 640.31,507.60 640.46,507.60 640.60,507.60 640.74,507.60 640.88,507.60 641.03,507.60 641.17,507.60 641.31,507.60 641.45,507.60 641.59,507.60 641.73,507.60 641.87,507.60 642.01,507.60 642.16,507.60 642.30,507.60 642.43,507.60 642.57,507.60 642.71,507.60 642.85,507.60 642.99,507.60 643.13,507.60 643.27,507.60 643.41,507.60 643.55,507.60 643.68,507.60 643.82,507.60 643.96,507.60 644.10,507.60 644.23,507.60 644.37,507.60 644.51,507.60 644.64,507.60 644.78,507.60 644.91,507.60 645.05,507.60 645.19,507.60 645.32,507.60 645.46,507.60 645.59,507.60 645.73,507.60 645.86,507.60 646.00,507.60 646.13,507.60 646.26,507.60 646.40,507.60 646.53,507.60 646.66,507.60 646.80,507.60 646.93,507.60 647.06,507.60 647.20,507.60 647.33,507.60 647.46,507.60 647.59,507.60 647.72,507.60 647.86,507.60 647.99,507.60 648.12,507.60 648.25,507.60 648.38,507.60 648.51,507.60 648.64,507.60 648.77,507.60 648.90,507.60 649.03,507.60 649.16,507.60 649.29,507.60 649.42,507.60 649.55,507.60 649.68,507.60 649.81,507.60 649.94,507.60 650.06,507.60 650.19,507.60 650.32,507.60 650.45,507.60 650.58,507.60 650.70,507.60 650.83,507.60 650.96,507.60 651.08,507.60 651.21,507.60 651.34,507.60 651.46,507.60 651.59,507.60 651.72,507.60 651.84,507.60 651.97,507.60 652.09,507.60 652.22,507.60 652.34,507.60 652.47,507.60 652.59,507.60 652.72,507.60 652.84,507.60 652.97,507.60 653.09,507.60 653.22,507.60 653.34,507.60 653.46,507.60 653.59,507.60 653.71,507.60 653.83,507.60 653.96,507.60 654.08,507.60 654.20,507.60 654.32,507.60 654.45,507.60 654.57,507.60 654.69,507.60 654.81,507.60 654.93,507.60 655.05,507.60 655.18,507.60 655.30,507.60 655.42,507.60 655.54,507.60 655.66,507.60 655.78,507.60 655.90,507.60 656.02,507.60 656.14,507.60 656.26,507.60 656.38,507.60 656.50,507.60 656.62,507.60 656.74,507.60 656.86,507.60 656.98,507.60 657.10,507.60 657.21,507.60 657.33,507.60 657.45,507.60 657.57,507.60 657.69,507.60 657.80,507.60 657.92,507.60 658.04,507.60 658.16,507.60 658.27,507.60 658.39,507.60 658.51,507.60 658.62,507.60 658.74,507.60 658.86,507.60 658.97,507.60 659.09,507.60 659.21,507.60 659.32,507.60 659.44,507.60 659.55,507.60 659.67,507.60 659.78,507.60 659.90,507.60 660.01,507.60 660.13,507.60 660.24,507.60 660.36,507.60 660.47,507.60 660.59,507.60 660.70,507.60 660.81,507.60 660.93,507.60 661.04,507.60 661.15,507.60 661.27,507.60 661.38,507.60 661.49,507.60 661.61,507.60 661.72,507.60 661.83,507.60 661.95,507.60 662.06,507.60 662.17,507.60 662.28,507.60 662.39,507.60 662.51,507.60 662.62,507.60 662.73,507.60 662.84,507.60 662.95,507.60 663.06,507.60 663.17,507.60 663.28,507.60 663.39,507.60 663.51,507.60 663.62,507.60 663.73,507.60 663.84,507.60 663.95,507.60 664.06,507.60 664.17,507.60 664.28,507.60 664.38,507.60 664.49,507.60 664.60,507.60 664.71,507.60 664.82,507.60 664.93,507.60 665.04,507.60 665.15,507.60 665.26,507.60 665.36,507.60 665.47,507.60 665.58,507.60 665.69,507.60 665.80,507.60 665.90,507.60 666.01,507.60 666.12,507.60 666.23,507.60 666.33,507.60 666.44,507.60 666.55,507.60 666.65,507.60 666.76,507.60 666.87,507.60 666.97,507.60 667.08,507.60 667.19,507.60 667.29,507.60 667.40,507.60 667.50,507.60 667.61,507.60 667.71,507.60 667.82,507.60 667.92,507.60 668.03,507.60 668.13,507.60 668.24,507.60 668.34,507.60 668.45,507.60 668.55,507.60 668.66,507.60 668.76,507.60 668.87,507.60 668.97,507.60 669.07,507.60 669.18,507.60 669.28,507.60 669.38,507.60 669.49,507.60 669.59,507.60 669.69,507.60 669.80,507.60 669.90,507.60 670.00,507.60 670.11,507.60 670.21,507.60 670.31,507.60 670.41,507.60 670.52,507.60 670.62,507.60 670.72,507.60 670.82,507.60 670.92,507.60 671.03,507.60 671.13,507.60 671.23,507.60 671.33,507.60 671.43,507.60 671.53,507.60 671.63,507.60 671.73,507.60 671.83,507.60 671.94,507.60 672.04,507.60 672.14,507.60 672.24,507.60 672.34,507.60 672.44,507.60 672.54,507.60 672.64,507.60 672.74,507.60 672.84,507.60 672.94,507.60 673.03,507.60 673.13,507.60 673.23,507.60 673.33,507.60 673.43,507.60 673.53,507.60 673.63,507.60 673.73,507.60 673.83,507.60 673.92,507.60 674.02,507.60 674.12,507.60 674.22,507.60 674.32,507.60 674.42,507.60 674.51,507.60 674.61,507.60 674.71,507.60 674.81,507.60 674.90,507.60 675.00,507.60 675.10,507.60 675.19,507.60 675.29,507.60 675.39,507.60 675.49,507.60 675.58,507.60 675.68,507.60 675.77,507.60 675.87,507.60 675.97,507.60 676.06,507.60 676.16,507.60 676.26,507.60 676.35,507.60 676.45,507.60 676.54,507.60 676.64,507.60 676.73,507.60 676.83,507.60 676.92,507.60 677.02,507.60 677.11,507.60 677.21,507.60 677.30,507.60 677.40,507.60 677.49,507.60 677.59,507.60 677.68,507.60 677.78,507.60 677.87,507.60 677.96,507.60 678.06,507.60 678.15,507.60 678.25,507.60 678.34,507.60 678.43,507.60 678.53,507.60 678.62,507.60 678.71,507.60 678.81,507.60 678.90,507.60 678.99,507.60 679.09,507.60 679.18,507.60 679.27,507.60 679.36,507.60 679.46,507.60 679.55,507.60 679.64,507.60 679.73,507.60 679.83,507.60 679.92,507.60 680.01,507.60 680.10,507.60 680.19,507.60 680.29,507.60 680.38,507.60 680.47,507.60 680.56,507.60 680.65,507.60 680.74,507.60 680.83,507.60 680.92,507.60 681.02,507.60 681.11,507.60 681.20,507.60 681.29,507.60 681.38,507.60 681.47,507.60 681.56,507.60 681.65,507.60 681.74,507.60 681.83,507.60 681.92,507.60 682.01,507.60 682.10,507.60" stroke="#00FF00" stroke-width="3.6"/>
<path d="M61.65 34.10L68.05 23.00H55.25zM277.03 161.86L283.43 150.76H270.63zM335.11 253.71L341.51 242.61H328.71zM370.09 321.28L376.49 310.18H363.69zM395.20 371.30L401.60 360.20H388.80zM414.80 408.39L421.20 397.29H408.40zM430.89 435.90L437.29 424.80H424.49zM444.52 456.32L450.92 445.22H438.12zM456.36 471.46L462.76 460.36H449.96zM466.81 482.70L473.21 471.60H460.41zM476.18 500.88L482.58 489.78H469.78zM484.66 505.15L491.06 494.05H478.26zM492.40 508.13L498.80 497.03H486.00zM499.54 510.20L505.94 499.10H493.14zM506.14 511.65L512.54 500.55H499.74zM512.30 512.67L518.70 501.57H505.90zM518.06 513.37L524.46 502.27H511.66zM523.47 513.86L529.87 502.76H517.07zM528.58 514.21L534.98 503.11H522.18zM533.41 514.45L539.81 503.35H527.01zM537.99 514.61L544.39 503.51H531.59zM542.35 514.73L548.75 503.63H535.95zM546.51 514.81L552.91 503.71H540.11zM550.48 514.87L556.88 503.77H544.08zM554.29 514.91L560.69 503.81H547.89zM557.94 514.94L564.34 503.84H551.54zM561.45 514.96L567.85 503.86H555.05zM564.83 514.97L571.23 503.87H558.43zM568.08 514.98L574.48 503.88H561.68zM571.22 514.98L577.62 503.88H564.82zM574.26 514.99L580.66 503.89H567.86zM577.19 514.99L583.59 503.89H570.79zM580.04 514.99L586.44 503.89H573.64zM582.79 515.00L589.19 503.90H576.39zM585.47 515.00L591.87 503.90H579.07zM588.06 515.00L594.46 503.90H581.66zM590.59 515.00L596.99 503.90H584.19zM593.04 515.00L599.44 503.90H586.64zM595.43 515.00L601.83 503.90H589.03zM597.76 515.00L604.16 503.90H591.36zM600.02 515.00L606.42 503.90H593.62zM602.24 515.00L608.64 503.90H595.84zM604.40 515.00L610.80 503.90H598.00zM606.50 515.00L612.90 503.90H600.10zM608.56 515.00L614.96 503.90H602.16zM610.58 515.00L616.98 503.90H604.18zM612.55 515.00L618.95 503.90H606.15zM614.48 515.00L620.88 503.90H608.08zM616.36 515.00L622.76 503.90H609.96zM618.21 515.00L624.61 503.90H611.81zM620.02 515.00L626.42 503.90H613.62zM621.80 515.00L628.20 503.90H615.40zM623.54 515.00L629.94 503.90H617.14zM625.24 515.00L631.64 503.90H618.84zM626.92 515.00L633.32 503.90H620.52zM628.57 515.00L634.97 503.90H622.17zM630.18 515.00L636.58 503.90H623.78zM631.77 515.00L638.17 503.90H625.37zM633.33 515.00L639.73 503.90H626.93zM634.86 515.00L641.26 503.90H628.46zM636.37 515.00L642.77 503.90H629.97zM637.85 515.00L644.25 503.90H631.45zM639.31 515.00L645.71 503.90H632.91zM640.74 515.00L647.14 503.90H634.34zM642.16 515.00L648.56 503.90H635.76zM643.55 515.00L649.95 503.90H637.15zM644.91 515.00L651.31 503.90H638.51zM646.26 515.00L652.66 503.90H639.86zM647.59 515.00L653.99 503.90H641.19zM648.90 515.00L655.30 503.90H642.50zM650.19 515.00L656.59 503.90H643.79zM651.46 515.00L657.86 503.90H645.06zM652.72 515.00L659.12 503.90H646.32zM653.96 515.00L660.36 503.90H647.56zM655.18 515.00L661.58 503.90H648.78zM656.38 515.00L662.78 503.90H649.98zM657.57 515.00L663.97 503.90H651.17zM658.74 515.00L665.14 503.90H652.34zM659.90 515.00L666.30 503.90H653.50zM661.04 515.00L667.44 503.90H654.64zM662.17 515.00L668.57 503.90H655.77zM663.28 515.00L669.68 503.90H656.88zM664.38 515.00L670.78 503.90H657.98zM665.47 515.00L671.87 503.90H659.07zM666.55 515.00L672.95 503.90H660.15zM667.61 515.00L674.01 503.90H661.21zM668.66 515.00L675.06 503.90H662.26zM669.69 515.00L676.09 503.90H663.29zM670.72 515.00L677.12 503.90H664.32zM671.73 515.00L678.13 503.90H665.33zM672.74 515.00L679.14 503.90H666.34zM673.73 515.00L680.13 503.90H667.33zM674.71 515.00L681.11 503.90H668.31zM675.68 515.00L682.08 503.90H669.28zM676.64 515.00L683.04 503.90H670.24zM677.59 515.00L683.99 503.90H671.19zM678.53 515.00L684.93 503.90H672.13zM679.46 515.00L685.86 503.90H673.06zM680.38 515.00L686.78 503.90H673.98zM681.29 515.00L687.69 503.90H674.89z" stroke="#00FF00" stroke-width="2.1" stroke-linejoin="round"/>
</g>
<path d="M509.5 30.0H561.5" stroke="#FF0080" stroke-width="3.6" stroke-linecap="round"/>
<path d="M530.80 25.40h9.20v9.20h-9.20z" stroke="#FF0080" stroke-width="2.1" fill="none" stroke-linejoin="round"/>
<text x="574.3" y="39.8" font-size="25.4"><tspan class="i" font-size="26.8">k</tspan><tspan font-size="18.6" dy="7.2" dx="-0.8">s</tspan><tspan dy="-7.2">/</tspan><tspan class="i" font-size="26.8">k</tspan><tspan font-size="18.6" dy="7.2">h</tspan><tspan dy="-7.2" dx="-0.4">=0.1</tspan></text>
<path d="M509.5 67.9H561.5" stroke="#0000FF" stroke-width="3.6" stroke-linecap="round"/>
<path d="M530.00 67.90a5.4 5.4 0 1 0 10.80 0a5.4 5.4 0 1 0 -10.80 0z" stroke="#0000FF" stroke-width="2.1" fill="none" stroke-linejoin="round"/>
<text x="574.3" y="77.6" font-size="25.4"><tspan class="i" font-size="26.8">k</tspan><tspan font-size="18.6" dy="7.2" dx="-0.8">s</tspan><tspan dy="-7.2">/</tspan><tspan class="i" font-size="26.8">k</tspan><tspan font-size="18.6" dy="7.2">h</tspan><tspan dy="-7.2" dx="-0.4">=0.2</tspan></text>
<path d="M509.5 105.8H561.5" stroke="#FF8000" stroke-width="3.6" stroke-linecap="round"/>
<path d="M535.40 98.40L541.80 109.50H529.00z" stroke="#FF8000" stroke-width="2.1" fill="none" stroke-linejoin="round"/>
<text x="574.3" y="115.5" font-size="25.4"><tspan class="i" font-size="26.8">k</tspan><tspan font-size="18.6" dy="7.2" dx="-0.8">s</tspan><tspan dy="-7.2">/</tspan><tspan class="i" font-size="26.8">k</tspan><tspan font-size="18.6" dy="7.2">h</tspan><tspan dy="-7.2" dx="-0.4">=0.4</tspan></text>
<path d="M509.5 143.7H561.5" stroke="#00FF00" stroke-width="3.6" stroke-linecap="round"/>
<path d="M535.40 151.10L541.80 140.00H529.00z" stroke="#00FF00" stroke-width="2.1" fill="none" stroke-linejoin="round"/>
<text x="574.3" y="153.1" font-size="25.4"><tspan class="i" font-size="26.8">k</tspan><tspan font-size="18.6" dy="7.2" dx="-0.8">s</tspan><tspan dy="-7.2">/</tspan><tspan class="i" font-size="26.8">k</tspan><tspan font-size="18.6" dy="7.2">h</tspan><tspan dy="-7.2" dx="-0.4">=0.8</tspan></text>
<text x="50.9" y="15.3" font-size="21.7" text-anchor="end">0.0</text>
<text x="50.9" y="115.1" font-size="21.7" text-anchor="end">0.2</text>
<text x="50.9" y="214.9" font-size="21.7" text-anchor="end">0.4</text>
<text x="50.9" y="314.8" font-size="21.7" text-anchor="end">0.6</text>
<text x="50.9" y="414.6" font-size="21.7" text-anchor="end">0.8</text>
<text x="50.9" y="514.4" font-size="21.7" text-anchor="end">1.0</text>
<text x="60.6" y="535.0" font-size="21.7" text-anchor="middle">0.001</text>
<text x="267.5" y="535.0" font-size="21.7" text-anchor="middle">0.01</text>
<text x="474.3" y="535.0" font-size="21.7" text-anchor="middle">0.1</text>
<text x="682.6" y="535.0" font-size="21.7" text-anchor="middle">1</text>
<text x="363.1" y="560.1" font-size="27.2"><tspan class="i">T</tspan><tspan font-size="20" dy="9.3" dx="-1.2">h</tspan></text>
<text transform="translate(17.8 267) rotate(-90)" font-size="28.2" class="i">U</text>
<text x="91" y="319.8" font-size="25.8" xml:space="preserve"><tspan class="i">k</tspan><tspan font-size="18.9" dy="7.1">h</tspan><tspan dy="-7.1">/</tspan><tspan class="i">k</tspan><tspan font-size="18.9" dy="7.1">v</tspan><tspan dy="-7.1">=2,</tspan></text>
<text x="91" y="357.7" font-size="25.8" xml:space="preserve"><tspan class="i">A</tspan><tspan font-size="18.9" dy="7.1">e</tspan><tspan dy="-7.1">/</tspan><tspan class="i">A</tspan><tspan font-size="18.9" dy="7.1">d</tspan><tspan dy="-7.1">=100, </tspan><tspan class="i">R</tspan><tspan font-size="18.9" dy="7.1">e</tspan><tspan dy="-7.1">/</tspan><tspan class="i">r</tspan><tspan font-size="18.9" dy="7.1">p</tspan><tspan dy="-7.1">=5,</tspan></text>
<text x="91" y="395.1" font-size="25.8" xml:space="preserve"><tspan class="i">H</tspan>/<tspan class="i">R</tspan><tspan font-size="18.9" dy="7.1">e</tspan><tspan dy="-7.1">=10,  </tspan><tspan class="i">A</tspan><tspan font-size="18.9" dy="7.1">sd</tspan><tspan dy="-7.1">/</tspan><tspan class="i">A</tspan><tspan font-size="18.9" dy="7.1">d</tspan><tspan dy="-7.1">=25,</tspan></text>
<text x="91" y="432.6" font-size="25.8" xml:space="preserve"><tspan class="i">λ</tspan><tspan font-size="18.9" dy="7.1">v1</tspan><tspan dy="-7.1">=0.5,  </tspan><tspan class="i">λ</tspan><tspan font-size="18.9" dy="7.1">v2</tspan><tspan dy="-7.1">=0.5,</tspan></text>
<text x="91" y="471.0" font-size="25.8" xml:space="preserve"><tspan class="i">λ</tspan><tspan font-size="18.9" dy="7.1">b</tspan><tspan dy="-7.1">=0.6, </tspan><tspan class="i">T</tspan><tspan font-size="18.9" dy="7.1">hb</tspan><tspan dy="-7.1">= 0.1</tspan></text>
</svg></body></html>
